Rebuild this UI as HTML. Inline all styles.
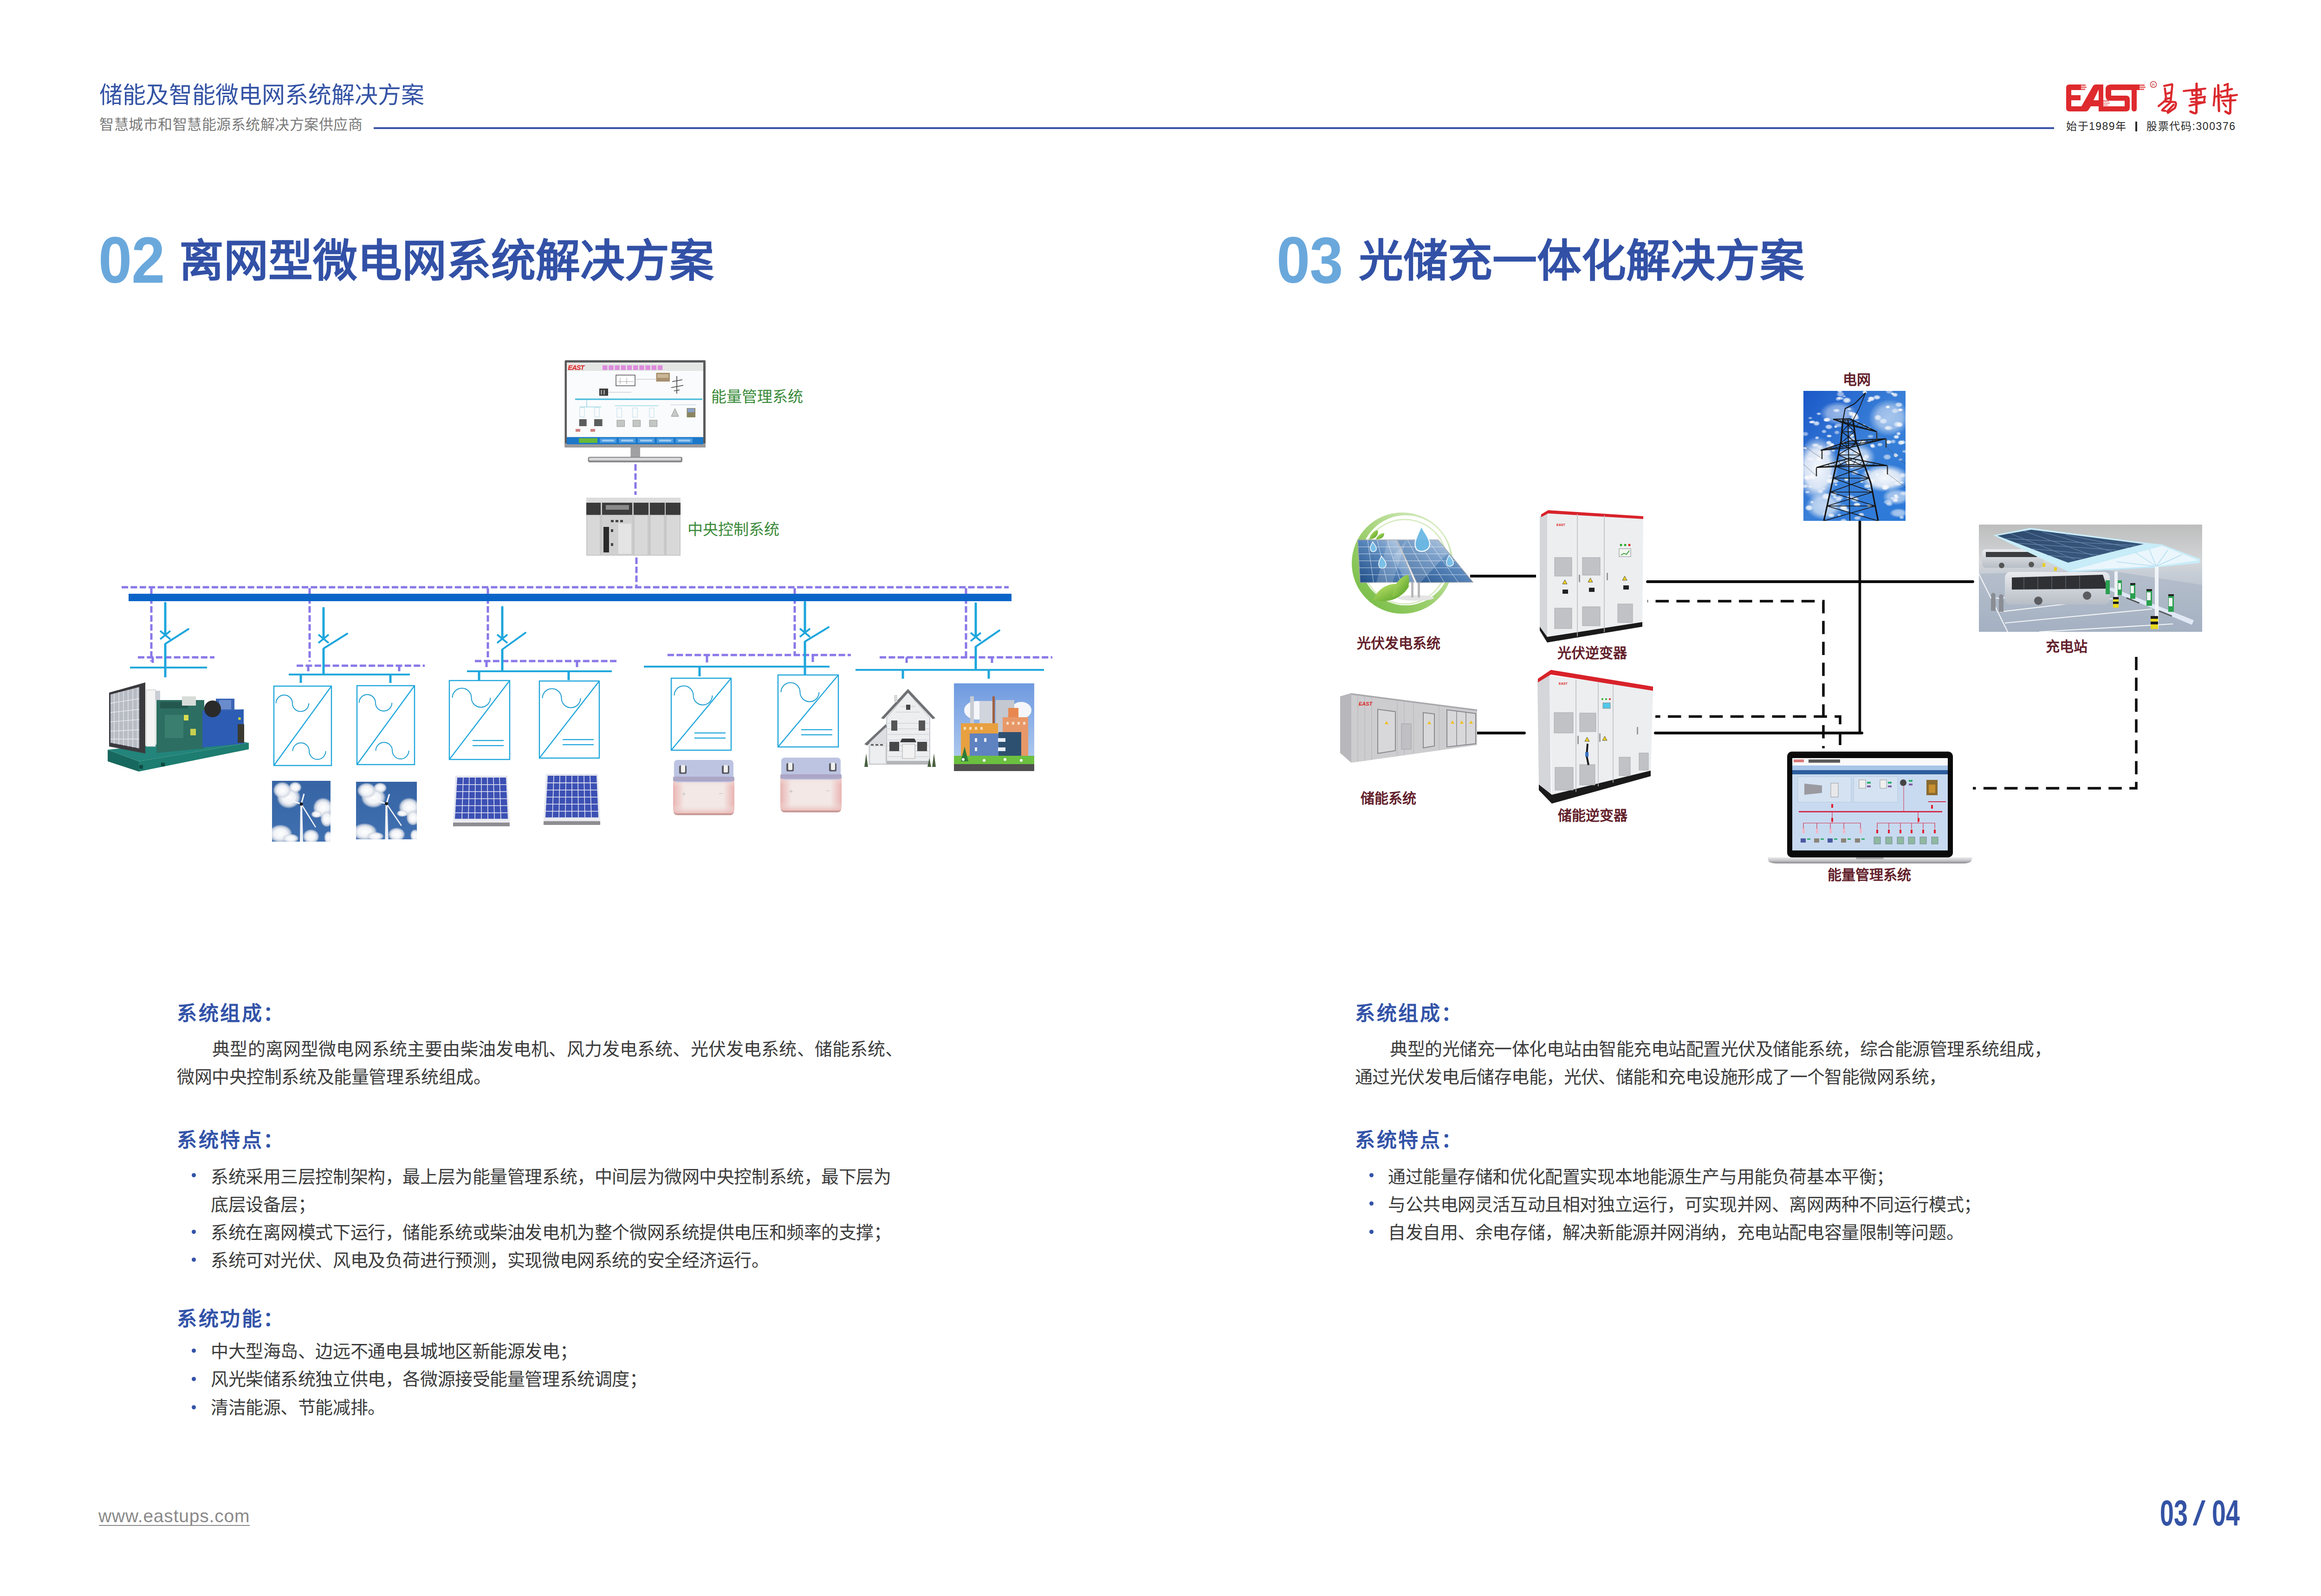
<!DOCTYPE html>
<html lang="zh-CN"><head><meta charset="utf-8"><style>
html,body{margin:0;padding:0;background:#fff;}
body{width:5032px;height:3438px;position:relative;overflow:hidden;font-family:"Liberation Sans",sans-serif;}
.a{position:absolute;white-space:nowrap;line-height:1;}
.hd{color:#3453a5;font-size:50px;}
.sub{color:#7a7a7a;font-size:31px;letter-spacing:0.5px;}
.num{color:#6aa8dc;font-weight:bold;font-size:141px;letter-spacing:-1px;transform:scaleX(0.92);transform-origin:left top;}
.ttl{color:#3251a6;font-weight:900;font-size:96px;}
.h3{color:#3353a8;font-weight:900;font-size:43px;letter-spacing:3.5px;}
.p{color:#3c3c3c;font-size:38px;letter-spacing:-0.42px;margin-top:1px;}
.dot{position:absolute;width:9px;height:9px;border-radius:50%;background:#3353a8;}
.lbl{color:#62202a;font-weight:bold;font-size:30px;}
.glbl{color:#3a8a3a;font-size:33px;}
svg{position:absolute;left:0;top:0;}
</style></head><body>
<svg width="5032" height="3438" viewBox="0 0 5032 3438"><defs><linearGradient id="skyg" x1="0" y1="0" x2="0" y2="1"><stop offset="0" stop-color="#3664a4"/><stop offset="1" stop-color="#4070b0"/></linearGradient>
<radialGradient id="cloudg" cx="0.5" cy="0.5" r="0.5"><stop offset="0" stop-color="#ffffff"/><stop offset="0.55" stop-color="#f0f2f6"/><stop offset="0.8" stop-color="#d4dae4" stop-opacity="0.85"/><stop offset="1" stop-color="#c8d0dc" stop-opacity="0"/></radialGradient>
<symbol id="wind" viewBox="0 0 126 131" preserveAspectRatio="none">
<rect width="126" height="131" fill="url(#skyg)"/>
<ellipse cx="36" cy="36" rx="26" ry="24" fill="url(#cloudg)"/>
<ellipse cx="22" cy="20" rx="20" ry="18" fill="url(#cloudg)"/>
<ellipse cx="50" cy="14" rx="14" ry="12" fill="url(#cloudg)"/>
<ellipse cx="110" cy="58" rx="22" ry="22" fill="url(#cloudg)"/>
<ellipse cx="118" cy="82" rx="14" ry="18" fill="url(#cloudg)"/>
<ellipse cx="96" cy="72" rx="12" ry="8" fill="url(#cloudg)"/>
<ellipse cx="18" cy="114" rx="26" ry="20" fill="url(#cloudg)"/>
<ellipse cx="40" cy="124" rx="18" ry="10" fill="url(#cloudg)"/>
<ellipse cx="84" cy="120" rx="18" ry="16" fill="url(#cloudg)"/>
<ellipse cx="122" cy="122" rx="10" ry="14" fill="url(#cloudg)"/>
<polygon points="61,52 65,52 67,131 60,131" fill="#eef0f4"/>
<line x1="63" y1="50" x2="69" y2="28" stroke="#f4f6fa" stroke-width="3"/>
<line x1="63" y1="50" x2="33" y2="40" stroke="#f4f6fa" stroke-width="3"/>
<line x1="63" y1="50" x2="94" y2="100" stroke="#f4f6fa" stroke-width="2.5"/>
<circle cx="63" cy="50" r="3.5" fill="#1a1a1a"/>
</symbol>
<linearGradient id="batg" x1="0" y1="0" x2="1" y2="0"><stop offset="0" stop-color="#e9b4b2"/><stop offset="0.18" stop-color="#f3e8e6"/><stop offset="0.82" stop-color="#f3e8e6"/><stop offset="1" stop-color="#e9b4b2"/></linearGradient>
<linearGradient id="batgv" x1="0" y1="0" x2="0" y2="1"><stop offset="0" stop-color="#f0c8c4" stop-opacity="0.9"/><stop offset="0.25" stop-color="#f0ecea" stop-opacity="0"/><stop offset="0.75" stop-color="#f0ecea" stop-opacity="0"/><stop offset="1" stop-color="#ebbab6" stop-opacity="0.9"/></linearGradient>
<symbol id="battery" viewBox="0 0 134 121" preserveAspectRatio="none">
<rect x="2" y="42" width="130" height="77" rx="8" fill="#c89a98"/>
<rect x="1" y="40" width="132" height="75" rx="8" fill="url(#batg)"/>
<rect x="1" y="40" width="132" height="75" rx="8" fill="url(#batgv)"/>
<rect x="3" y="0" width="128" height="48" rx="7" fill="#bdc4e2"/>
<rect x="1" y="36" width="132" height="10" rx="3" fill="#aca6c6"/>
<rect x="14" y="12" width="16" height="18" rx="3" fill="#5a5a60"/>
<rect x="18" y="11" width="9" height="16" rx="2" fill="#f0f0f0"/>
<rect x="106" y="12" width="16" height="18" rx="3" fill="#5a5a60"/>
<rect x="110" y="11" width="9" height="16" rx="2" fill="#f0f0f0"/>
<text x="20" y="78" font-size="14" fill="#b8bcb8" font-family="Liberation Sans">+</text>
<text x="100" y="76" font-size="14" fill="#b8bcb8" font-family="Liberation Sans">–</text>
</symbol>
<pattern id="cells" width="13.5" height="13.5" patternUnits="userSpaceOnUse"><rect width="13.5" height="13.5" fill="#e6e8f2"/><rect x="1" y="1" width="11.5" height="11.5" rx="2" fill="#3c50b4"/></pattern>
<symbol id="solar" viewBox="0 0 124 110" preserveAspectRatio="none">
<rect x="1" y="98" width="122" height="12" fill="#8e8e92"/>
<polygon points="6,2 118,2 123,100 1,100" fill="#e4e6ee"/>
<polygon points="10,6 115,6 119,94 5,94" fill="#3c50b4"/>
<g stroke="#e6e8f2" stroke-width="1.5">
<line x1="5" y1="21" x2="118" y2="21"/><line x1="5" y1="36" x2="118" y2="36"/><line x1="5" y1="51" x2="118" y2="51"/><line x1="5" y1="66" x2="119" y2="66"/><line x1="5" y1="81" x2="119" y2="81"/>
<line x1="23" y1="6" x2="20" y2="94"/><line x1="36" y1="6" x2="34" y2="94"/><line x1="49" y1="6" x2="48" y2="94"/><line x1="62" y1="6" x2="62" y2="94"/><line x1="75" y1="6" x2="76" y2="94"/><line x1="88" y1="6" x2="90" y2="94"/><line x1="101" y1="6" x2="104" y2="94"/>
</g>
<rect x="1" y="96" width="122" height="6" fill="#ececf0"/>
</symbol>
</defs><line x1="262" y1="1265" x2="2173" y2="1265" stroke="#8878e8" stroke-width="5" stroke-dasharray="14 5.4"/>
<line x1="1369" y1="1000" x2="1369" y2="1066" stroke="#8878e8" stroke-width="5" stroke-dasharray="14 5.4"/>
<line x1="1371" y1="1201" x2="1371" y2="1264" stroke="#8878e8" stroke-width="5" stroke-dasharray="14 5.4"/>
<line x1="326" y1="1267" x2="326" y2="1425" stroke="#8878e8" stroke-width="5" stroke-dasharray="14 5.4"/>
<line x1="667" y1="1267" x2="667" y2="1425" stroke="#8878e8" stroke-width="5" stroke-dasharray="14 5.4"/>
<line x1="1051" y1="1267" x2="1051" y2="1416" stroke="#8878e8" stroke-width="5" stroke-dasharray="14 5.4"/>
<line x1="1712" y1="1267" x2="1712" y2="1411" stroke="#8878e8" stroke-width="5" stroke-dasharray="14 5.4"/>
<line x1="2081" y1="1267" x2="2081" y2="1416" stroke="#8878e8" stroke-width="5" stroke-dasharray="14 5.4"/>
<line x1="297" y1="1416" x2="462" y2="1416" stroke="#8878e8" stroke-width="5" stroke-dasharray="14 5.4"/>
<line x1="639" y1="1434" x2="915" y2="1434" stroke="#8878e8" stroke-width="5" stroke-dasharray="14 5.4"/>
<line x1="1023" y1="1424" x2="1329" y2="1424" stroke="#8878e8" stroke-width="5" stroke-dasharray="14 5.4"/>
<line x1="1438" y1="1411" x2="1833" y2="1411" stroke="#8878e8" stroke-width="5" stroke-dasharray="14 5.4"/>
<line x1="1895" y1="1416" x2="2267" y2="1416" stroke="#8878e8" stroke-width="5" stroke-dasharray="14 5.4"/>
<line x1="664" y1="1434" x2="664" y2="1446" stroke="#8878e8" stroke-width="5" />
<line x1="860" y1="1434" x2="860" y2="1446" stroke="#8878e8" stroke-width="5" />
<line x1="1048" y1="1424" x2="1048" y2="1437" stroke="#8878e8" stroke-width="5" />
<line x1="1243" y1="1424" x2="1243" y2="1437" stroke="#8878e8" stroke-width="5" />
<line x1="1523" y1="1411" x2="1523" y2="1427" stroke="#8878e8" stroke-width="5" />
<line x1="1751" y1="1411" x2="1751" y2="1426" stroke="#8878e8" stroke-width="5" />
<line x1="1953" y1="1416" x2="1953" y2="1428" stroke="#8878e8" stroke-width="5" />
<line x1="2137" y1="1416" x2="2137" y2="1428" stroke="#8878e8" stroke-width="5" />
<line x1="329" y1="1416" x2="329" y2="1428" stroke="#8878e8" stroke-width="5" />
<rect x="277" y="1279" width="1902" height="16" fill="#0a64c8"/>
<line x1="280" y1="1438" x2="446" y2="1438" stroke="#22a8dc" stroke-width="4" />
<line x1="622" y1="1453" x2="883" y2="1453" stroke="#22a8dc" stroke-width="4" />
<line x1="1006" y1="1446" x2="1318" y2="1446" stroke="#22a8dc" stroke-width="4" />
<line x1="1387" y1="1436" x2="1787" y2="1436" stroke="#22a8dc" stroke-width="4" />
<line x1="1843" y1="1443" x2="2249" y2="1443" stroke="#22a8dc" stroke-width="4" />
<line x1="648" y1="1453" x2="648" y2="1471" stroke="#1ea6dc" stroke-width="5" />
<line x1="841" y1="1453" x2="841" y2="1471" stroke="#1ea6dc" stroke-width="5" />
<line x1="1032" y1="1446" x2="1032" y2="1465" stroke="#1ea6dc" stroke-width="5" />
<line x1="1225" y1="1446" x2="1225" y2="1465" stroke="#1ea6dc" stroke-width="5" />
<line x1="1507" y1="1436" x2="1507" y2="1457" stroke="#1ea6dc" stroke-width="5" />
<line x1="1945" y1="1443" x2="1945" y2="1462" stroke="#1ea6dc" stroke-width="5" />
<line x1="2130" y1="1443" x2="2130" y2="1462" stroke="#1ea6dc" stroke-width="5" />
<line x1="356" y1="1299" x2="356" y2="1368" stroke="#1ea6dc" stroke-width="5" stroke-linecap="round"/>
<line x1="345" y1="1359" x2="367" y2="1377" stroke="#1ea6dc" stroke-width="4" />
<line x1="345" y1="1377" x2="367" y2="1359" stroke="#1ea6dc" stroke-width="4" />
<line x1="356" y1="1387" x2="406" y2="1355" stroke="#1ea6dc" stroke-width="4" stroke-linecap="round"/>
<line x1="356" y1="1387" x2="356" y2="1459" stroke="#1ea6dc" stroke-width="5" />
<line x1="697" y1="1310" x2="697" y2="1376" stroke="#1ea6dc" stroke-width="5" stroke-linecap="round"/>
<line x1="686" y1="1367" x2="708" y2="1385" stroke="#1ea6dc" stroke-width="4" />
<line x1="686" y1="1385" x2="708" y2="1367" stroke="#1ea6dc" stroke-width="4" />
<line x1="697" y1="1397" x2="748" y2="1365" stroke="#1ea6dc" stroke-width="4" stroke-linecap="round"/>
<line x1="697" y1="1397" x2="697" y2="1453" stroke="#1ea6dc" stroke-width="5" />
<line x1="1082" y1="1308" x2="1082" y2="1376" stroke="#1ea6dc" stroke-width="5" stroke-linecap="round"/>
<line x1="1071" y1="1367" x2="1093" y2="1385" stroke="#1ea6dc" stroke-width="4" />
<line x1="1071" y1="1385" x2="1093" y2="1367" stroke="#1ea6dc" stroke-width="4" />
<line x1="1082" y1="1399" x2="1132" y2="1363" stroke="#1ea6dc" stroke-width="4" stroke-linecap="round"/>
<line x1="1082" y1="1399" x2="1082" y2="1446" stroke="#1ea6dc" stroke-width="5" />
<line x1="1734" y1="1297" x2="1734" y2="1363" stroke="#1ea6dc" stroke-width="5" stroke-linecap="round"/>
<line x1="1723" y1="1354" x2="1745" y2="1372" stroke="#1ea6dc" stroke-width="4" />
<line x1="1723" y1="1372" x2="1745" y2="1354" stroke="#1ea6dc" stroke-width="4" />
<line x1="1734" y1="1382" x2="1785" y2="1351" stroke="#1ea6dc" stroke-width="4" stroke-linecap="round"/>
<line x1="1734" y1="1382" x2="1734" y2="1454" stroke="#1ea6dc" stroke-width="5" />
<line x1="2102" y1="1300" x2="2102" y2="1372" stroke="#1ea6dc" stroke-width="5" stroke-linecap="round"/>
<line x1="2091" y1="1363" x2="2113" y2="1381" stroke="#1ea6dc" stroke-width="4" />
<line x1="2091" y1="1381" x2="2113" y2="1363" stroke="#1ea6dc" stroke-width="4" />
<line x1="2102" y1="1393" x2="2153" y2="1358" stroke="#1ea6dc" stroke-width="4" stroke-linecap="round"/>
<line x1="2102" y1="1393" x2="2102" y2="1444" stroke="#1ea6dc" stroke-width="5" />
<rect x="590" y="1478" width="124" height="171" fill="none" stroke="#1ea6dc" stroke-width="2.4"/>
<line x1="590" y1="1649" x2="714" y2="1478" stroke="#1ea6dc" stroke-width="2.4" />
<path d="M594.5,1515 A17.7,17.7 0 0 1 629.9,1515 A17.7,17.7 0 0 0 665.3,1515" fill="none" stroke="#1a9cd0" stroke-width="1.9"/>
<path d="M630.5,1618 A17.8,17.8 0 0 1 666.1,1618 A17.8,17.8 0 0 0 701.7,1618" fill="none" stroke="#1a9cd0" stroke-width="1.9"/>
<rect x="769" y="1477" width="124" height="170" fill="none" stroke="#1ea6dc" stroke-width="2.4"/>
<line x1="769" y1="1647" x2="893" y2="1477" stroke="#1ea6dc" stroke-width="2.4" />
<path d="M773.5,1514 A17.7,17.7 0 0 1 808.9,1514 A17.7,17.7 0 0 0 844.3,1514" fill="none" stroke="#1a9cd0" stroke-width="1.9"/>
<path d="M809.5,1617 A17.8,17.8 0 0 1 845.1,1617 A17.8,17.8 0 0 0 880.7,1617" fill="none" stroke="#1a9cd0" stroke-width="1.9"/>
<rect x="968" y="1466" width="130" height="170" fill="none" stroke="#1ea6dc" stroke-width="2.4"/>
<line x1="968" y1="1636" x2="1098" y2="1466" stroke="#1ea6dc" stroke-width="2.4" />
<path d="M974.5,1503 A20.5,20.5 0 0 1 1015.5,1503 A20.5,20.5 0 0 0 1056.5,1503" fill="none" stroke="#1a9cd0" stroke-width="1.9"/>
<line x1="1018" y1="1595.2" x2="1085" y2="1595.2" stroke="#1ea6dc" stroke-width="2.2" />
<line x1="1018" y1="1606.2" x2="1085" y2="1606.2" stroke="#1ea6dc" stroke-width="2.2" />
<rect x="1162" y="1467" width="129" height="166" fill="none" stroke="#1ea6dc" stroke-width="2.4"/>
<line x1="1162" y1="1633" x2="1291" y2="1467" stroke="#1ea6dc" stroke-width="2.4" />
<path d="M1168.5,1504 A20.5,20.5 0 0 1 1209.5,1504 A20.5,20.5 0 0 0 1250.5,1504" fill="none" stroke="#1a9cd0" stroke-width="1.9"/>
<line x1="1212" y1="1593.16" x2="1279" y2="1593.16" stroke="#1ea6dc" stroke-width="2.2" />
<line x1="1212" y1="1604.16" x2="1279" y2="1604.16" stroke="#1ea6dc" stroke-width="2.2" />
<rect x="1446" y="1461" width="129" height="155" fill="none" stroke="#1ea6dc" stroke-width="2.4"/>
<line x1="1446" y1="1616" x2="1575" y2="1461" stroke="#1ea6dc" stroke-width="2.4" />
<path d="M1452.5,1498 A20.5,20.5 0 0 1 1493.5,1498 A20.5,20.5 0 0 0 1534.5,1498" fill="none" stroke="#1a9cd0" stroke-width="1.9"/>
<line x1="1496" y1="1578.8" x2="1563" y2="1578.8" stroke="#1ea6dc" stroke-width="2.2" />
<line x1="1496" y1="1589.8" x2="1563" y2="1589.8" stroke="#1ea6dc" stroke-width="2.2" />
<rect x="1676" y="1454" width="130" height="155" fill="none" stroke="#1ea6dc" stroke-width="2.4"/>
<line x1="1676" y1="1609" x2="1806" y2="1454" stroke="#1ea6dc" stroke-width="2.4" />
<path d="M1682.5,1491 A20.5,20.5 0 0 1 1723.5,1491 A20.5,20.5 0 0 0 1764.5,1491" fill="none" stroke="#1a9cd0" stroke-width="1.9"/>
<line x1="1726" y1="1571.8" x2="1793" y2="1571.8" stroke="#1ea6dc" stroke-width="2.2" />
<line x1="1726" y1="1582.8" x2="1793" y2="1582.8" stroke="#1ea6dc" stroke-width="2.2" /><g id="gen">
<polygon points="232,1615 232,1640 299,1662 299,1640" fill="#17685e"/>
<polygon points="299,1640 299,1662 536,1614 536,1600" fill="#1d7d70"/>
<polygon points="232,1615 299,1640 536,1600 470,1590" fill="#22847a"/>
<rect x="300" y="1648" width="8" height="8" fill="#0e4a42"/>
<rect x="347" y="1643" width="8" height="8" fill="#0e4a42"/>
<polygon points="235,1492 313,1470 313,1623 235,1608" fill="#3a3a3e"/>
<polygon points="238,1496 300,1480 300,1612 238,1600" fill="#b8bcc4"/>
<g stroke="#e8ecf0" stroke-width="1.3">
<line x1="246" y1="1494" x2="246" y2="1602"/><line x1="256" y1="1491" x2="256" y2="1604"/><line x1="266" y1="1489" x2="266" y2="1606"/><line x1="276" y1="1486" x2="276" y2="1608"/><line x1="286" y1="1484" x2="286" y2="1610"/><line x1="296" y1="1481" x2="296" y2="1612"/>
<line x1="238" y1="1515" x2="300" y2="1505"/><line x1="238" y1="1535" x2="300" y2="1528"/><line x1="238" y1="1555" x2="300" y2="1550"/><line x1="238" y1="1575" x2="300" y2="1572"/><line x1="238" y1="1592" x2="300" y2="1592"/>
</g>
<rect x="315" y="1486" width="20" height="122" fill="#f4f4f4" stroke="#bbb" stroke-width="1"/>
<rect x="335" y="1488" width="10" height="20" fill="#c8ccd4"/>
<polygon points="337,1508 440,1508 440,1612 337,1622" fill="#2d6e62"/>
<rect x="345" y="1512" width="60" height="14" fill="#24584f"/>
<rect x="392" y="1500" width="30" height="20" fill="#d8dcd8"/>
<rect x="355" y="1540" width="40" height="50" fill="#3a7e70"/>
<rect x="410" y="1570" width="12" height="14" fill="#c8d050"/>
<rect x="396" y="1540" width="10" height="12" fill="#d8dc50"/>
<polygon points="436,1530 525,1528 525,1602 436,1610" fill="#2c5cb4"/>
<rect x="465" y="1505" width="40" height="26" fill="#3a64b4"/>
<rect x="472" y="1508" width="26" height="20" fill="#6a8ccc"/>
<circle cx="458" cy="1527" r="18" fill="#2a2a2a"/>
<rect x="512" y="1560" width="14" height="40" fill="#3a3a30"/>
<circle cx="516" cy="1548" r="3" fill="#c0d040"/>
</g>
<use href="#wind" x="586" y="1682" width="126" height="131"/>
<use href="#wind" x="767" y="1684" width="131" height="124"/>
<use href="#solar" x="975" y="1669" width="124" height="111"/>
<use href="#solar" x="1170" y="1665" width="124" height="112"/>
<use href="#battery" x="1449" y="1637" width="134" height="121"/>
<use href="#battery" x="1680" y="1632" width="134" height="120"/>
<g id="house">
<rect x="1872" y="1601" width="38" height="46" fill="#e4e6ea" stroke="#b8bcc0" stroke-width="1"/>
<polygon points="1862,1603 1908,1560 1912,1566 1868,1606" fill="#707276"/>
<polygon points="1872,1601 1909,1566 1909,1601" fill="#dcdee2"/>
<g fill="#555"><rect x="1876" y="1603" width="6" height="3"/><rect x="1886" y="1603" width="6" height="3"/><rect x="1896" y="1603" width="6" height="3"/></g>
<rect x="1874" y="1607" width="34" height="38" fill="#eceef0" stroke="#c8c8cc" stroke-width="1"/>
<polygon points="1910,1546 1956,1492 2003,1546 2003,1640 1910,1640" fill="#eceef0" stroke="#9a9ca0" stroke-width="1"/>
<polygon points="1898,1547 1956,1484 2015,1547 2009,1549 1956,1492 1904,1549" fill="#6e7074"/>
<rect x="1926" y="1497" width="7" height="15" fill="#d8d8d8"/>
<g stroke="#c4c8cc" stroke-width="1.2"><line x1="1912" y1="1558" x2="2001" y2="1558"/><line x1="1912" y1="1570" x2="2001" y2="1570"/><line x1="1912" y1="1582" x2="2001" y2="1582"/><line x1="1912" y1="1594" x2="2001" y2="1594"/><line x1="1912" y1="1606" x2="2001" y2="1606"/><line x1="1912" y1="1618" x2="2001" y2="1618"/><line x1="1912" y1="1630" x2="2001" y2="1630"/><line x1="1930" y1="1534" x2="1982" y2="1534"/><line x1="1940" y1="1522" x2="1972" y2="1522"/></g>
<rect x="1952" y="1518" width="9" height="11" fill="#444"/>
<rect x="1920" y="1552" width="13" height="22" fill="#555"/>
<rect x="1979" y="1552" width="14" height="22" fill="#555"/>
<rect x="1916" y="1598" width="21" height="20" fill="#484848"/>
<rect x="1976" y="1598" width="21" height="20" fill="#484848"/>
<polygon points="1939,1599 1943,1591 1970,1591 1974,1599" fill="#3a3c40"/>
<rect x="1944" y="1603" width="27" height="31" fill="#f2f2f2" stroke="#aaa" stroke-width="1"/>
<rect x="1910" y="1639" width="94" height="8" fill="#b4b6ba"/>
<polygon points="1862,1652 1866,1623 1870,1652" fill="#4a6040"/>
<polygon points="1998,1652 2002,1633 2006,1652" fill="#4a6040"/>
<polygon points="2008,1652 2012,1623 2016,1652" fill="#4a6040"/>
</g>
<g id="factory">
<defs><linearGradient id="fsky" x1="0" y1="0" x2="0" y2="1"><stop offset="0" stop-color="#6f9ae0"/><stop offset="1" stop-color="#b8d0f0"/></linearGradient></defs>
<rect x="2055" y="1472" width="173" height="189" fill="url(#fsky)"/>
<ellipse cx="2105" cy="1530" rx="28" ry="20" fill="#f4f6fa"/>
<ellipse cx="2200" cy="1530" rx="22" ry="18" fill="#f4f6fa"/>
<rect x="2090" y="1500" width="8" height="60" fill="#c8ccd4"/>
<rect x="2110" y="1510" width="30" height="70" fill="#d0d4dc"/>
<rect x="2145" y="1508" width="40" height="75" fill="#c4c8d0"/>
<rect x="2138" y="1500" width="5" height="80" fill="#a06040"/>
<rect x="2172" y="1525" width="22" height="40" fill="#e88850"/>
<rect x="2160" y="1545" width="55" height="90" fill="#e89868"/>
<rect x="2070" y="1558" width="80" height="70" fill="#e8a040"/>
<g fill="#fff8e8" opacity="0.7"><rect x="2076" y="1566" width="5" height="6"/><rect x="2088" y="1566" width="5" height="6"/><rect x="2100" y="1566" width="5" height="6"/><rect x="2112" y="1566" width="5" height="6"/><rect x="2168" y="1555" width="5" height="6"/><rect x="2180" y="1555" width="5" height="6"/><rect x="2192" y="1555" width="5" height="6"/><rect x="2204" y="1555" width="5" height="6"/></g>
<rect x="2089" y="1580" width="62" height="50" fill="#5f82c0"/>
<rect x="2151" y="1577" width="49" height="53" fill="#2e5070"/>
<g fill="#e8eef8"><rect x="2100" y="1590" width="5" height="8"/><rect x="2120" y="1590" width="5" height="8"/><rect x="2150" y="1590" width="16" height="8"/><rect x="2100" y="1610" width="5" height="8"/><rect x="2150" y="1610" width="16" height="8"/></g>
<rect x="2055" y="1628" width="173" height="18" fill="#6cc040"/>
<rect x="2055" y="1646" width="173" height="15" fill="#505050"/>
<polygon points="2070,1640 2078,1608 2086,1640" fill="#2e7a3a"/>
<g fill="#fff"><circle cx="2075" cy="1636" r="3"/><circle cx="2120" cy="1638" r="3"/><circle cx="2165" cy="1636" r="3"/><circle cx="2200" cy="1638" r="3"/></g>
</g>
<g id="monitor">
<rect x="1216.5" y="776" width="303.5" height="188" rx="2" fill="#5a5a5c"/>
<rect x="1216.5" y="955" width="303.5" height="9" fill="#9a9a9c"/>
<rect x="1221" y="781" width="294" height="176" fill="#fafbfc"/>
<rect x="1221" y="782" width="294" height="17" fill="#e4e6e4"/>
<rect x="1223" y="784" width="27" height="13.5" fill="#f4d8d8"/>
<text x="1223.5" y="797" font-size="14.5" font-weight="bold" font-style="italic" fill="#d42828" font-family="Liberation Sans" letter-spacing="-1">EAST</text>
<rect x="1298.0" y="787" width="10.5" height="10" fill="#d850d8" opacity="0.6"/><rect x="1311.2" y="787" width="10.5" height="10" fill="#d850d8" opacity="0.6"/><rect x="1324.4" y="787" width="10.5" height="10" fill="#d850d8" opacity="0.6"/><rect x="1337.6" y="787" width="10.5" height="10" fill="#d850d8" opacity="0.6"/><rect x="1350.8" y="787" width="10.5" height="10" fill="#d850d8" opacity="0.6"/><rect x="1364.0" y="787" width="10.5" height="10" fill="#d850d8" opacity="0.6"/><rect x="1377.2" y="787" width="10.5" height="10" fill="#d850d8" opacity="0.6"/><rect x="1390.4" y="787" width="10.5" height="10" fill="#d850d8" opacity="0.6"/><rect x="1403.6" y="787" width="10.5" height="10" fill="#d850d8" opacity="0.6"/><rect x="1416.8" y="787" width="10.5" height="10" fill="#d850d8" opacity="0.6"/>
<rect x="1239" y="858.5" width="274" height="3" fill="#40b8d8"/>
<rect x="1327" y="808" width="41" height="23" fill="#fff" stroke="#555" stroke-width="1.5"/>
<g stroke="#888" stroke-width="0.8"><line x1="1330" y1="822" x2="1365" y2="822"/><line x1="1336" y1="814" x2="1336" y2="828"/><line x1="1350" y1="814" x2="1350" y2="828"/></g>
<line x1="1368" y1="817" x2="1413" y2="817" stroke="#aaa" stroke-width="0.8"/>
<rect x="1413.5" y="803" width="29.5" height="19" fill="#a89070"/>
<rect x="1416" y="806" width="24" height="8" fill="#d8c8a8" opacity="0.7"/>
<g stroke="#444" stroke-width="1.6" fill="none"><path d="M1458,810 L1458,848 M1448,822 L1470,818 M1446,835 L1472,830 M1452,842 L1464,840"/></g>
<rect x="1291" y="837" width="19" height="15.5" fill="#3a3a3a"/>
<g fill="#999"><rect x="1294" y="840" width="3" height="10"/><rect x="1300" y="840" width="3" height="10"/></g>
<line x1="1310" y1="845" x2="1360" y2="845" stroke="#aaa" stroke-width="0.8"/>
<line x1="1249" y1="876.5" x2="1295.5" y2="876.5" stroke="#9ad8e4" stroke-width="1.5"/>
<line x1="1324.5" y1="874" x2="1418.6" y2="874" stroke="#9ad8e4" stroke-width="1.5"/>
<line x1="1444.7" y1="872" x2="1499.7" y2="872" stroke="#b8c8d8" stroke-width="1.2"/>
<line x1="1264" y1="861" x2="1264" y2="876" stroke="#9ad8e4" stroke-width="1.5"/>
<g stroke="#b8dce8" stroke-width="1" fill="none"><rect x="1249" y="878" width="10" height="20"/><rect x="1281" y="878" width="10" height="20"/><rect x="1329" y="879" width="10" height="20"/><rect x="1363" y="879" width="10" height="20"/><rect x="1399" y="879" width="10" height="20"/></g>
<g fill="#5a5e5c"><rect x="1247.7" y="903" width="16" height="15"/><rect x="1280" y="903" width="17.6" height="15"/></g>
<g fill="#c4c6c4" stroke="#888" stroke-width="0.8"><rect x="1329" y="905" width="16.5" height="14"/><rect x="1363.5" y="905" width="16" height="14"/><rect x="1399" y="905" width="16.7" height="14"/></g>
<polygon points="1446,897 1454,880 1462,897" fill="#c8c8c8" stroke="#777" stroke-width="0.8"/>
<rect x="1479.5" y="879" width="18.5" height="20" fill="#8a8460"/>
<rect x="1481" y="880" width="15" height="8" fill="#8aa0c8"/>
<g fill="#d08080"><rect x="1240" y="924" width="10" height="6"/><rect x="1272" y="924" width="10" height="6"/></g>
<rect x="1221" y="941.5" width="294" height="15.5" fill="#1c78c8"/>
<rect x="1247" y="944" width="40" height="10" fill="#68b838"/>
<g fill="#4a9ae0"><rect x="1292" y="944" width="36" height="10"/><rect x="1333" y="944" width="36" height="10"/><rect x="1374" y="944" width="36" height="10"/><rect x="1415" y="944" width="36" height="10"/><rect x="1456" y="944" width="36" height="10"/></g>
<g fill="#d8eaf8" opacity="0.6"><rect x="1297" y="947" width="26" height="4"/><rect x="1338" y="947" width="26" height="4"/><rect x="1379" y="947" width="26" height="4"/><rect x="1420" y="947" width="26" height="4"/><rect x="1461" y="947" width="26" height="4"/></g>
<rect x="1358.5" y="964" width="20.5" height="20" fill="#a0a0a2"/>
<rect x="1266.5" y="984" width="203.5" height="12" rx="4" fill="#8a8a8c"/>
<rect x="1269" y="986" width="198" height="6" rx="2" fill="#d8d8da"/>
</g>
<g id="plc">
<rect x="1263" y="1072" width="203" height="125" fill="#c8c8c8"/>
<rect x="1263" y="1072" width="203" height="10" fill="#dcdcdc"/>
<rect x="1263" y="1083" width="31" height="26" fill="#3a3a3a"/>
<rect x="1297" y="1083" width="65" height="26" fill="#3c3c3c"/>
<rect x="1305" y="1088" width="50" height="10" fill="#8a8a8a"/>
<rect x="1365" y="1083" width="32" height="26" fill="#3a3a3a"/>
<rect x="1400" y="1083" width="32" height="26" fill="#3a3a3a"/>
<rect x="1434" y="1083" width="32" height="26" fill="#3a3a3a"/>
<g fill="#d8d8d8"><rect x="1265" y="1111" width="27" height="84"/><rect x="1367" y="1111" width="28" height="84"/><rect x="1402" y="1111" width="28" height="84"/><rect x="1436" y="1111" width="28" height="84"/></g>
<rect x="1297" y="1111" width="65" height="84" fill="#d0d0d0"/>
<rect x="1300" y="1135" width="12" height="55" fill="#2a2a2a"/>
<g fill="#444"><rect x="1316" y="1120" width="6" height="5"/><rect x="1326" y="1120" width="6" height="5"/><rect x="1336" y="1120" width="6" height="5"/><rect x="1316" y="1140" width="5" height="6"/><rect x="1316" y="1170" width="5" height="6"/></g>
<rect x="1332" y="1128" width="28" height="65" fill="#e4e4e4"/>
</g><line x1="3167" y1="1241" x2="3309" y2="1241" stroke="#0a0a0a" stroke-width="5.8" />
<line x1="3549" y1="1253" x2="4250" y2="1253" stroke="#0a0a0a" stroke-width="5.8" stroke-linecap="round"/>
<line x1="4006.5" y1="1103" x2="4006.5" y2="1581" stroke="#0a0a0a" stroke-width="5.6" />
<line x1="3182" y1="1579" x2="3284" y2="1579" stroke="#0a0a0a" stroke-width="5.8" stroke-linecap="round"/>
<line x1="3566" y1="1579" x2="4011" y2="1579" stroke="#0a0a0a" stroke-width="6" stroke-linecap="round"/>
<path d="M3549,1295 H3928 V1612" fill="none" stroke="#0a0a0a" stroke-width="5.5" stroke-dasharray="28.5 16.4" stroke-dashoffset="27.4"/>
<path d="M3566,1543.5 H3964 V1606" fill="none" stroke="#0a0a0a" stroke-width="5.5" stroke-dasharray="28.5 16.4" stroke-dashoffset="17.9"/>
<path d="M4250,1698 H4602 V1414" fill="none" stroke="#0a0a0a" stroke-width="5.5" stroke-dasharray="28.5 16.4" stroke-dashoffset="22"/>
<g id="pvsys">
<defs>
<linearGradient id="ringg" x1="0" y1="1" x2="1" y2="0"><stop offset="0" stop-color="#7cc040"/><stop offset="0.5" stop-color="#a8d878"/><stop offset="1" stop-color="#e0f0c8"/></linearGradient>
<linearGradient id="pang" x1="0" y1="1" x2="1" y2="0"><stop offset="0" stop-color="#1e4c86"/><stop offset="0.55" stop-color="#5a88bc"/><stop offset="1" stop-color="#c8d8ea"/></linearGradient>
<linearGradient id="leafg" x1="0" y1="0" x2="1" y2="1"><stop offset="0" stop-color="#c8e870"/><stop offset="1" stop-color="#4a9a20"/></linearGradient>
</defs>
<defs><linearGradient id="ringg2" x1="0" y1="1" x2="1" y2="0"><stop offset="0" stop-color="#6cb83a"/><stop offset="0.45" stop-color="#9ed070"/><stop offset="1" stop-color="#e8f4dc"/></linearGradient></defs>
<circle cx="3021" cy="1213" r="109" fill="url(#ringg2)"/>
<circle cx="3028" cy="1207" r="97" fill="#ffffff"/>
<circle cx="3026" cy="1210" r="91" fill="none" stroke="#d8ecc4" stroke-width="3"/>
<ellipse cx="3050" cy="1288" rx="39" ry="6" fill="#e4e4e4"/>
<rect x="3040" y="1253" width="5" height="34" fill="#b8b8b8"/><rect x="3054" y="1253" width="5" height="34" fill="#b8b8b8"/>
<polygon points="2925,1163 3009,1163 3047,1254 2930,1255" fill="url(#pang)" stroke="#9aa0a8" stroke-width="1.5"/>
<polygon points="3010,1163 3098,1163 3173,1254 3052,1255" fill="url(#pang)" stroke="#9aa0a8" stroke-width="1.5"/>
<g stroke="#e8f0f8" stroke-width="1" opacity="0.8">
<line x1="2926" y1="1178" x2="3015" y2="1178"/><line x1="2927" y1="1193" x2="3022" y2="1193"/><line x1="2928" y1="1208" x2="3028" y2="1208"/><line x1="2928" y1="1223" x2="3034" y2="1223"/><line x1="2929" y1="1238" x2="3040" y2="1238"/>
<line x1="2946" y1="1163" x2="2959" y2="1255"/><line x1="2967" y1="1163" x2="2988" y2="1255"/><line x1="2988" y1="1163" x2="3018" y2="1255"/>
<line x1="3016" y1="1178" x2="3110" y2="1178"/><line x1="3023" y1="1193" x2="3123" y2="1193"/><line x1="3029" y1="1208" x2="3135" y2="1208"/><line x1="3035" y1="1223" x2="3148" y2="1223"/><line x1="3041" y1="1238" x2="3160" y2="1238"/>
<line x1="3032" y1="1163" x2="3082" y2="1255"/><line x1="3054" y1="1163" x2="3112" y2="1255"/><line x1="3076" y1="1163" x2="3142" y2="1255"/>
</g>
<polygon points="2990,1163 3030,1163 3000,1255 2965,1255" fill="#ffffff" opacity="0.18"/>
<polygon points="3030,1163 3098,1163 3120,1190 3060,1255 3030,1255 3000,1200" fill="#ffffff" opacity="0.2"/>
<path d="M3062,1134 C3050,1160 3044,1172 3052,1184 C3062,1192 3080,1186 3080,1172 C3080,1160 3070,1150 3062,1134Z" fill="#6ab8e4" stroke="#f4faff" stroke-width="2.5" opacity="0.95"/>
<path d="M2957,1167 C2952,1177 2950,1182 2954,1187 C2958,1190 2965,1188 2965,1182 C2965,1177 2961,1173 2957,1167Z" fill="#7ac0e8" stroke="#fff" stroke-width="1.5"/>
<path d="M2976,1198 C2970,1210 2968,1216 2972,1222 C2977,1226 2986,1223 2986,1216 C2986,1210 2981,1205 2976,1198Z" fill="#7ac0e8" stroke="#fff" stroke-width="1.5"/>
<path d="M3122,1196 C3116,1207 3114,1213 3118,1218 C3122,1222 3131,1219 3131,1213 C3131,1207 3127,1202 3122,1196Z" fill="#7ac0e8" stroke="#fff" stroke-width="1.5"/>
<path d="M2958,1293 C2970,1262 3000,1250 3036,1262 C3020,1290 2990,1300 2958,1293Z" fill="url(#leafg)"/>
<path d="M3000,1286 C3002,1258 3016,1242 3034,1238 C3040,1262 3030,1280 3000,1286Z" fill="url(#leafg)"/>
<path d="M2950,1162 C2952,1150 2960,1143 2968,1142 C2970,1154 2962,1161 2950,1162Z" fill="url(#leafg)"/><path d="M2964,1162 C2968,1152 2976,1148 2982,1149 C2982,1158 2974,1162 2964,1162Z" fill="url(#leafg)"/>
</g>
<polygon points="3317,1112 3333,1103 3333,1382 3317,1355" fill="#d4d6da"/>
<polygon points="3333,1103 3540,1115 3538,1348 3333,1382" fill="#eceef0"/>
<polygon points="3317,1350 3333,1372 3538,1340 3538,1350 3333,1384 3317,1358" fill="#1a1a1a"/>
<polygon points="3320,1108 3335,1099 3540,1112 3540,1118 3335,1106 3320,1114" fill="#d8222a"/>
<line x1="3398" y1="1107" x2="3398" y2="1371" stroke="#b8bcc0" stroke-width="1.5"/>
<line x1="3456" y1="1110" x2="3456" y2="1362" stroke="#b8bcc0" stroke-width="1.5"/>
<rect x="3349" y="1201" width="37" height="40" fill="#c0c2c6" stroke="#a8aaae" stroke-width="1"/>
<rect x="3409" y="1201" width="38" height="38" fill="#c0c2c6" stroke="#a8aaae" stroke-width="1"/>
<rect x="3349" y="1310" width="37" height="44" fill="#c0c2c6" stroke="#a8aaae" stroke-width="1"/>
<rect x="3409" y="1307" width="38" height="41" fill="#c0c2c6" stroke="#a8aaae" stroke-width="1"/>
<rect x="3485" y="1301" width="32" height="40" fill="#c0c2c6" stroke="#a8aaae" stroke-width="1"/>
<polygon points="3366,1258 3371,1249 3376,1258" fill="#f0d020" stroke="#333" stroke-width="0.8"/>
<polygon points="3421,1254 3426,1245 3431,1254" fill="#f0d020" stroke="#333" stroke-width="0.8"/>
<polygon points="3495,1250 3500,1241 3505,1250" fill="#f0d020" stroke="#333" stroke-width="0.8"/>
<g fill="#222"><rect x="3366" y="1270" width="12" height="9"/><rect x="3423" y="1266" width="12" height="9"/><rect x="3497" y="1261" width="12" height="9"/></g>
<rect x="3488" y="1182" width="25" height="17" fill="#f4f8f4" stroke="#888" stroke-width="1"/><polyline points="3492,1196 3498,1192 3504,1194 3510,1186" fill="none" stroke="#40a040" stroke-width="2"/>
<circle cx="3492" cy="1174" r="2.5" fill="#2a2"/><circle cx="3501" cy="1174" r="2.5" fill="#2a2"/><circle cx="3510" cy="1174" r="2.5" fill="#d22"/>
<g fill="#999"><rect x="3401" y="1238" width="3" height="16"/><rect x="3461" y="1234" width="3" height="16"/></g>
<text x="3353" y="1133" font-size="7" fill="#d22" font-family="Liberation Sans" font-weight="bold">EAST</text>
<polygon points="3312,1466 3338,1455 3341,1720 3315,1693" fill="#d4d6da"/>
<polygon points="3338,1455 3561,1485 3556,1667 3343,1720" fill="#eceef0"/>
<polygon points="3315,1690 3343,1712 3556,1660 3556,1672 3343,1731 3315,1702" fill="#1a1a1a"/>
<polygon points="3313,1462 3341,1443 3561,1479 3561,1488 3341,1453 3313,1470" fill="#d8222a"/>
<line x1="3395" y1="1463" x2="3395" y2="1706" stroke="#b8bcc0" stroke-width="1.5"/>
<line x1="3443" y1="1470" x2="3443" y2="1694" stroke="#b8bcc0" stroke-width="1.5"/>
<line x1="3475" y1="1474" x2="3475" y2="1686" stroke="#b8bcc0" stroke-width="1.5"/>
<rect x="3348" y="1535" width="41" height="44" fill="#c0c2c6" stroke="#a8aaae" stroke-width="1"/>
<rect x="3403" y="1536" width="35" height="40" fill="#c0c2c6" stroke="#a8aaae" stroke-width="1"/>
<rect x="3350" y="1653" width="39" height="49" fill="#c0c2c6" stroke="#a8aaae" stroke-width="1"/>
<rect x="3403" y="1647" width="33" height="44" fill="#c0c2c6" stroke="#a8aaae" stroke-width="1"/>
<rect x="3488" y="1631" width="24" height="40" fill="#c0c2c6" stroke="#a8aaae" stroke-width="1"/>
<rect x="3531" y="1622" width="20" height="37" fill="#c0c2c6" stroke="#a8aaae" stroke-width="1"/>
<polygon points="3414,1597 3419,1588 3424,1597" fill="#f0d020" stroke="#333" stroke-width="0.8"/>
<polygon points="3452,1595 3457,1586 3462,1595" fill="#f0d020" stroke="#333" stroke-width="0.8"/>
<rect x="3453" y="1514" width="16" height="12" fill="#50c8e8" stroke="#888" stroke-width="1"/>
<circle cx="3452" cy="1506" r="2" fill="#2a2"/><circle cx="3460" cy="1506" r="2" fill="#2a2"/><circle cx="3468" cy="1506" r="2" fill="#d22"/>
<path d="M3420,1602 L3418,1628 L3422,1648" stroke="#1a1a1a" stroke-width="4" fill="none"/><rect x="3415" y="1620" width="7" height="10" fill="#3a70c0"/>
<g fill="#999"><rect x="3398" y="1585" width="3" height="18"/><rect x="3445" y="1580" width="3" height="18"/><rect x="3526" y="1566" width="3" height="16"/></g>
<text x="3358" y="1475" font-size="7" fill="#d22" font-family="Liberation Sans" font-weight="bold">EAST</text>
<g id="container">
<polygon points="2887,1500 2911,1493 2911,1643 2887,1622" fill="#b8b8bc"/>
<polygon points="2911,1493 3182,1528 3182,1605 2911,1643" fill="#cdcdd0"/>
<g stroke="#b4b4b8" stroke-width="1">
<line x1="2925" y1="1495" x2="2925" y2="1641"/><line x1="2940" y1="1497" x2="2940" y2="1639"/><line x1="2955" y1="1499" x2="2955" y2="1637"/><line x1="3010" y1="1506" x2="3010" y2="1629"/><line x1="3025" y1="1508" x2="3025" y2="1627"/><line x1="3045" y1="1511" x2="3045" y2="1624"/><line x1="3100" y1="1518" x2="3100" y2="1616"/>
</g>
<line x1="2911" y1="1495" x2="3182" y2="1530" stroke="#a8a8ac" stroke-width="3"/>
<polygon points="2968,1528 3006,1533 3006,1617 2968,1623" fill="#d8d8da" stroke="#8a8a8e" stroke-width="2"/>
<polygon points="3066,1535 3090,1538 3090,1607 3066,1611" fill="#d8d8da" stroke="#8a8a8e" stroke-width="2"/>
<polygon points="3117,1529 3179,1537 3179,1602 3117,1609" fill="#d8d8da" stroke="#8a8a8e" stroke-width="2"/>
<line x1="3138" y1="1532" x2="3138" y2="1607" stroke="#8a8a8e" stroke-width="1.5"/><line x1="3158" y1="1535" x2="3158" y2="1604" stroke="#8a8a8e" stroke-width="1.5"/>
<rect x="3019" y="1559" width="21" height="55" fill="#c0c0c4" stroke="#a0a0a4" stroke-width="1"/>
<g fill="#f0c020"><polygon points="2983,1560 2987,1553 2991,1560"/><polygon points="3075,1560 3079,1553 3083,1560"/><polygon points="3125,1559 3129,1552 3133,1559"/><polygon points="3145,1559 3149,1552 3153,1559"/><polygon points="3165,1559 3169,1552 3173,1559"/></g>
<text x="2927" y="1520" font-size="11" fill="#d22" font-family="Liberation Sans" font-weight="bold" font-style="italic">EAST</text>
</g>
<g id="tower"><defs><linearGradient id="tsky" x1="0" y1="0" x2="1" y2="1"><stop offset="0" stop-color="#1a58c8"/><stop offset="0.5" stop-color="#3a80d8"/><stop offset="1" stop-color="#2a78d8"/></linearGradient><radialGradient id="tcl" cx="0.5" cy="0.5" r="0.5"><stop offset="0" stop-color="#ffffff"/><stop offset="0.6" stop-color="#f4f6fa" stop-opacity="0.9"/><stop offset="1" stop-color="#f0f4fa" stop-opacity="0"/></radialGradient><clipPath id="tclip"><rect x="3885" y="842" width="220" height="280"/></clipPath></defs><g clip-path="url(#tclip)"><rect x="3885" y="842" width="220" height="280" fill="url(#tsky)"/><ellipse cx="3915" cy="1010" rx="45" ry="70" fill="url(#tcl)" opacity="0.95"/><ellipse cx="3930" cy="1090" rx="40" ry="30" fill="url(#tcl)" opacity="0.7"/><ellipse cx="4060" cy="1030" rx="55" ry="30" fill="url(#tcl)" opacity="0.95"/><ellipse cx="4085" cy="1070" rx="30" ry="18" fill="url(#tcl)" opacity="0.6"/><ellipse cx="4000" cy="985" rx="40" ry="30" fill="url(#tcl)" opacity="0.7"/><ellipse cx="4070" cy="900" rx="45" ry="40" fill="url(#tcl)" opacity="0.55"/><ellipse cx="3960" cy="890" rx="40" ry="25" fill="url(#tcl)" opacity="0.5"/><ellipse cx="4090" cy="1105" rx="20" ry="10" fill="url(#tcl)" opacity="0.6"/><ellipse cx="3956.2" cy="884.2" rx="7.9" ry="4.1" fill="url(#tcl)" opacity="0.74"/><ellipse cx="3965.5" cy="858.2" rx="7.0" ry="3.6" fill="url(#tcl)" opacity="0.70"/><ellipse cx="4066.9" cy="876.7" rx="5.3" ry="3.7" fill="url(#tcl)" opacity="0.93"/><ellipse cx="4012.0" cy="953.1" rx="9.9" ry="5.1" fill="url(#tcl)" opacity="0.89"/><ellipse cx="3952.9" cy="1070.5" rx="5.1" ry="3.4" fill="url(#tcl)" opacity="0.79"/><ellipse cx="3966.9" cy="995.4" rx="4.4" ry="2.3" fill="url(#tcl)" opacity="0.59"/><ellipse cx="4034.7" cy="961.7" rx="5.9" ry="4.0" fill="url(#tcl)" opacity="0.70"/><ellipse cx="3950.9" cy="1064.4" rx="8.2" ry="4.7" fill="url(#tcl)" opacity="0.76"/><ellipse cx="4000.5" cy="1087.0" rx="8.4" ry="4.9" fill="url(#tcl)" opacity="0.94"/><ellipse cx="3911.0" cy="959.1" rx="8.5" ry="4.7" fill="url(#tcl)" opacity="0.72"/><ellipse cx="3893.6" cy="1029.1" rx="8.6" ry="5.8" fill="url(#tcl)" opacity="0.89"/><ellipse cx="3954.0" cy="1036.7" rx="7.6" ry="5.1" fill="url(#tcl)" opacity="0.71"/><ellipse cx="4031.1" cy="859.0" rx="8.2" ry="5.7" fill="url(#tcl)" opacity="0.95"/><ellipse cx="4065.8" cy="921.7" rx="6.3" ry="4.4" fill="url(#tcl)" opacity="0.51"/><ellipse cx="3986.6" cy="889.1" rx="4.7" ry="2.4" fill="url(#tcl)" opacity="0.85"/><ellipse cx="3913.5" cy="911.3" rx="6.3" ry="4.8" fill="url(#tcl)" opacity="0.54"/><ellipse cx="3983.8" cy="995.8" rx="9.3" ry="6.9" fill="url(#tcl)" opacity="0.89"/><ellipse cx="3946.3" cy="958.3" rx="6.2" ry="4.7" fill="url(#tcl)" opacity="0.93"/><ellipse cx="3918.2" cy="891.3" rx="5.4" ry="3.1" fill="url(#tcl)" opacity="0.72"/><ellipse cx="4014.6" cy="915.6" rx="4.0" ry="2.5" fill="url(#tcl)" opacity="0.67"/><ellipse cx="4009.6" cy="1108.9" rx="7.1" ry="4.9" fill="url(#tcl)" opacity="0.80"/><ellipse cx="3896.9" cy="1093.9" rx="8.7" ry="6.6" fill="url(#tcl)" opacity="0.86"/><ellipse cx="3971.3" cy="953.7" rx="4.6" ry="3.2" fill="url(#tcl)" opacity="0.53"/><ellipse cx="3899.8" cy="900.5" rx="5.0" ry="3.0" fill="url(#tcl)" opacity="0.52"/><ellipse cx="3965.0" cy="849.1" rx="9.2" ry="6.3" fill="url(#tcl)" opacity="0.57"/><ellipse cx="3940.5" cy="939.3" rx="6.2" ry="3.3" fill="url(#tcl)" opacity="0.88"/><ellipse cx="4103.5" cy="972.5" rx="6.9" ry="3.6" fill="url(#tcl)" opacity="0.55"/><ellipse cx="3960.4" cy="916.1" rx="9.0" ry="4.9" fill="url(#tcl)" opacity="0.51"/><ellipse cx="4094.2" cy="989.9" rx="4.9" ry="3.2" fill="url(#tcl)" opacity="0.51"/><ellipse cx="4001.2" cy="1116.0" rx="8.2" ry="4.7" fill="url(#tcl)" opacity="0.67"/><ellipse cx="3921.7" cy="1058.1" rx="7.2" ry="5.3" fill="url(#tcl)" opacity="0.65"/><ellipse cx="3934.1" cy="1069.2" rx="9.9" ry="7.5" fill="url(#tcl)" opacity="0.86"/><ellipse cx="4065.0" cy="1049.2" rx="5.4" ry="3.5" fill="url(#tcl)" opacity="0.66"/><ellipse cx="3942.0" cy="1035.9" rx="9.7" ry="6.2" fill="url(#tcl)" opacity="0.92"/><ellipse cx="3933.5" cy="905.5" rx="5.2" ry="2.9" fill="url(#tcl)" opacity="0.78"/><ellipse cx="4083.1" cy="1077.3" rx="6.9" ry="4.8" fill="url(#tcl)" opacity="0.86"/><ellipse cx="3903.7" cy="1027.0" rx="9.5" ry="6.9" fill="url(#tcl)" opacity="0.84"/><ellipse cx="3990.2" cy="892.0" rx="8.7" ry="5.2" fill="url(#tcl)" opacity="0.86"/><ellipse cx="4098.8" cy="952.8" rx="6.4" ry="5.0" fill="url(#tcl)" opacity="0.83"/><ellipse cx="4084.1" cy="1067.8" rx="4.9" ry="3.6" fill="url(#tcl)" opacity="0.94"/><ellipse cx="4029.6" cy="940.1" rx="7.3" ry="3.9" fill="url(#tcl)" opacity="0.51"/><ellipse cx="4098.6" cy="1023.9" rx="7.2" ry="5.6" fill="url(#tcl)" opacity="0.70"/><ellipse cx="4076.8" cy="1073.3" rx="5.3" ry="3.0" fill="url(#tcl)" opacity="0.63"/><ellipse cx="3937.9" cy="1006.2" rx="5.6" ry="3.5" fill="url(#tcl)" opacity="0.56"/><ellipse cx="4085.2" cy="941.1" rx="6.7" ry="4.6" fill="url(#tcl)" opacity="0.91"/><ellipse cx="3977.5" cy="1099.0" rx="7.0" ry="4.6" fill="url(#tcl)" opacity="0.74"/><ellipse cx="3889.1" cy="965.2" rx="5.1" ry="2.6" fill="url(#tcl)" opacity="0.86"/><ellipse cx="3922.9" cy="974.6" rx="8.4" ry="5.6" fill="url(#tcl)" opacity="0.65"/><ellipse cx="3999.0" cy="997.5" rx="8.7" ry="4.6" fill="url(#tcl)" opacity="0.75"/><ellipse cx="3939.7" cy="919.5" rx="8.6" ry="5.6" fill="url(#tcl)" opacity="0.75"/><ellipse cx="4019.8" cy="983.6" rx="7.1" ry="5.0" fill="url(#tcl)" opacity="0.70"/><ellipse cx="4002.3" cy="975.9" rx="9.6" ry="6.8" fill="url(#tcl)" opacity="0.89"/><ellipse cx="4092.3" cy="914.7" rx="7.4" ry="5.8" fill="url(#tcl)" opacity="0.88"/><ellipse cx="3901.0" cy="909.4" rx="4.4" ry="3.1" fill="url(#tcl)" opacity="0.85"/><ellipse cx="4082.3" cy="885.2" rx="8.3" ry="5.8" fill="url(#tcl)" opacity="0.56"/><ellipse cx="4094.6" cy="953.5" rx="6.9" ry="5.5" fill="url(#tcl)" opacity="0.87"/><ellipse cx="3920.5" cy="962.8" rx="7.1" ry="4.3" fill="url(#tcl)" opacity="0.59"/><ellipse cx="3955.1" cy="1044.2" rx="4.1" ry="2.7" fill="url(#tcl)" opacity="0.70"/><ellipse cx="3889.0" cy="934.8" rx="7.7" ry="5.1" fill="url(#tcl)" opacity="0.53"/><ellipse cx="4101.7" cy="1062.7" rx="9.8" ry="5.2" fill="url(#tcl)" opacity="0.62"/><ellipse cx="3893.7" cy="1060.1" rx="5.6" ry="3.0" fill="url(#tcl)" opacity="0.69"/><ellipse cx="4085.5" cy="1071.3" rx="5.6" ry="3.0" fill="url(#tcl)" opacity="0.91"/><ellipse cx="4010.5" cy="1038.1" rx="4.5" ry="2.3" fill="url(#tcl)" opacity="0.81"/><ellipse cx="3978.6" cy="862.3" rx="9.6" ry="6.6" fill="url(#tcl)" opacity="0.86"/><ellipse cx="3903.4" cy="1081.7" rx="4.4" ry="3.3" fill="url(#tcl)" opacity="0.70"/><ellipse cx="3959.6" cy="996.9" rx="9.6" ry="5.5" fill="url(#tcl)" opacity="0.56"/><ellipse cx="4000.9" cy="908.8" rx="4.7" ry="2.6" fill="url(#tcl)" opacity="0.52"/><ellipse cx="3929.4" cy="929.4" rx="5.8" ry="4.2" fill="url(#tcl)" opacity="0.63"/><ellipse cx="3995.0" cy="891.8" rx="6.1" ry="3.1" fill="url(#tcl)" opacity="0.61"/><ellipse cx="3888.4" cy="1047.3" rx="7.3" ry="4.1" fill="url(#tcl)" opacity="0.71"/><ellipse cx="4090.6" cy="871.8" rx="8.9" ry="5.6" fill="url(#tcl)" opacity="0.72"/><ellipse cx="4068.6" cy="952.1" rx="7.0" ry="5.0" fill="url(#tcl)" opacity="0.94"/><ellipse cx="3960.4" cy="1075.0" rx="8.2" ry="5.7" fill="url(#tcl)" opacity="0.68"/><ellipse cx="3961.5" cy="857.2" rx="4.8" ry="2.5" fill="url(#tcl)" opacity="0.83"/><ellipse cx="4070.1" cy="1085.8" rx="8.0" ry="4.7" fill="url(#tcl)" opacity="0.61"/><ellipse cx="3949.5" cy="970.6" rx="4.9" ry="3.1" fill="url(#tcl)" opacity="0.62"/><ellipse cx="4096.6" cy="1114.3" rx="5.5" ry="4.3" fill="url(#tcl)" opacity="0.64"/><ellipse cx="3963.4" cy="842.3" rx="6.3" ry="4.0" fill="url(#tcl)" opacity="0.73"/><ellipse cx="3929.2" cy="983.3" rx="4.0" ry="2.3" fill="url(#tcl)" opacity="0.54"/><ellipse cx="3972.9" cy="853.7" rx="4.1" ry="2.4" fill="url(#tcl)" opacity="0.60"/><ellipse cx="4013.8" cy="990.2" rx="8.5" ry="5.9" fill="url(#tcl)" opacity="0.82"/><ellipse cx="4078.4" cy="951.1" rx="6.0" ry="4.7" fill="url(#tcl)" opacity="0.57"/><ellipse cx="4044.3" cy="1022.1" rx="4.3" ry="3.2" fill="url(#tcl)" opacity="0.90"/><ellipse cx="4023.0" cy="1047.5" rx="8.9" ry="4.8" fill="url(#tcl)" opacity="0.74"/><ellipse cx="3996.0" cy="1075.8" rx="8.8" ry="6.6" fill="url(#tcl)" opacity="0.76"/><ellipse cx="4081.4" cy="1033.2" rx="8.2" ry="4.6" fill="url(#tcl)" opacity="0.51"/><ellipse cx="3914.3" cy="943.0" rx="4.6" ry="3.5" fill="url(#tcl)" opacity="0.75"/><ellipse cx="4023.1" cy="1017.3" rx="8.1" ry="5.2" fill="url(#tcl)" opacity="0.50"/><ellipse cx="4060.5" cy="1051.5" rx="7.0" ry="4.6" fill="url(#tcl)" opacity="0.80"/><ellipse cx="3899.5" cy="1048.3" rx="5.5" ry="2.9" fill="url(#tcl)" opacity="0.62"/><ellipse cx="4045.5" cy="899.5" rx="8.4" ry="6.7" fill="url(#tcl)" opacity="0.72"/><ellipse cx="3969.2" cy="976.1" rx="8.1" ry="5.9" fill="url(#tcl)" opacity="0.78"/><ellipse cx="4026.4" cy="863.7" rx="4.9" ry="2.8" fill="url(#tcl)" opacity="0.83"/><ellipse cx="3952.0" cy="1001.0" rx="4.1" ry="2.1" fill="url(#tcl)" opacity="0.62"/><ellipse cx="4032.8" cy="1035.8" rx="8.1" ry="4.7" fill="url(#tcl)" opacity="0.73"/><ellipse cx="3987.2" cy="972.6" rx="4.7" ry="3.6" fill="url(#tcl)" opacity="0.59"/><ellipse cx="3986.0" cy="1071.6" rx="9.8" ry="6.2" fill="url(#tcl)" opacity="0.62"/><ellipse cx="3931.2" cy="1106.8" rx="5.3" ry="3.6" fill="url(#tcl)" opacity="0.56"/><ellipse cx="4065.4" cy="984.4" rx="9.3" ry="6.6" fill="url(#tcl)" opacity="0.60"/><ellipse cx="4082.5" cy="978.1" rx="4.1" ry="2.1" fill="url(#tcl)" opacity="0.72"/><ellipse cx="3984.2" cy="926.5" rx="4.8" ry="2.9" fill="url(#tcl)" opacity="0.64"/><ellipse cx="4069.9" cy="842.5" rx="8.5" ry="6.4" fill="url(#tcl)" opacity="0.55"/><ellipse cx="4088.8" cy="1041.6" rx="9.4" ry="5.5" fill="url(#tcl)" opacity="0.67"/><ellipse cx="3971.4" cy="1121.7" rx="7.5" ry="4.6" fill="url(#tcl)" opacity="0.69"/><ellipse cx="4068.6" cy="922.0" rx="9.6" ry="5.5" fill="url(#tcl)" opacity="0.62"/><ellipse cx="3997.4" cy="895.2" rx="6.2" ry="4.9" fill="url(#tcl)" opacity="0.90"/><ellipse cx="4063.6" cy="1018.7" rx="9.5" ry="7.4" fill="url(#tcl)" opacity="0.75"/><ellipse cx="4043.3" cy="855.9" rx="8.4" ry="5.3" fill="url(#tcl)" opacity="0.84"/><ellipse cx="4026.8" cy="922.1" rx="4.3" ry="3.3" fill="url(#tcl)" opacity="0.56"/><ellipse cx="3988.9" cy="938.2" rx="5.8" ry="4.2" fill="url(#tcl)" opacity="0.94"/><ellipse cx="3942.2" cy="1025.7" rx="5.8" ry="3.9" fill="url(#tcl)" opacity="0.68"/><ellipse cx="4084.3" cy="981.2" rx="5.3" ry="4.1" fill="url(#tcl)" opacity="0.95"/><ellipse cx="3984.0" cy="881.1" rx="5.2" ry="2.7" fill="url(#tcl)" opacity="0.65"/><ellipse cx="3905.0" cy="909.0" rx="5.6" ry="3.7" fill="url(#tcl)" opacity="0.90"/><ellipse cx="4049.9" cy="957.6" rx="6.5" ry="4.3" fill="url(#tcl)" opacity="0.67"/><ellipse cx="3959.4" cy="859.4" rx="5.7" ry="4.5" fill="url(#tcl)" opacity="0.56"/><ellipse cx="3995.7" cy="1018.3" rx="9.2" ry="5.2" fill="url(#tcl)" opacity="0.62"/><ellipse cx="3939.7" cy="953.9" rx="6.7" ry="5.2" fill="url(#tcl)" opacity="0.88"/><ellipse cx="4077.0" cy="848.1" rx="4.2" ry="3.0" fill="url(#tcl)" opacity="0.90"/><ellipse cx="3989.1" cy="1006.4" rx="4.0" ry="2.5" fill="url(#tcl)" opacity="0.92"/><ellipse cx="4066.6" cy="1081.5" rx="9.8" ry="5.6" fill="url(#tcl)" opacity="0.55"/><ellipse cx="3919.0" cy="988.3" rx="8.1" ry="6.3" fill="url(#tcl)" opacity="0.82"/><ellipse cx="4027.4" cy="1056.1" rx="6.7" ry="4.5" fill="url(#tcl)" opacity="0.52"/><ellipse cx="4057.1" cy="907.1" rx="9.5" ry="6.6" fill="url(#tcl)" opacity="0.64"/><ellipse cx="3913.2" cy="912.5" rx="7.8" ry="5.5" fill="url(#tcl)" opacity="0.55"/><ellipse cx="3900.5" cy="988.8" rx="7.5" ry="4.6" fill="url(#tcl)" opacity="0.60"/><ellipse cx="4017.2" cy="844.9" rx="5.8" ry="3.7" fill="url(#tcl)" opacity="0.93"/><ellipse cx="4026.8" cy="1089.5" rx="6.9" ry="3.9" fill="url(#tcl)" opacity="0.61"/><ellipse cx="4096.3" cy="1039.3" rx="5.8" ry="3.0" fill="url(#tcl)" opacity="0.72"/><ellipse cx="4033.4" cy="959.6" rx="5.5" ry="3.9" fill="url(#tcl)" opacity="0.92"/><ellipse cx="3977.5" cy="1033.1" rx="5.2" ry="3.8" fill="url(#tcl)" opacity="0.83"/><ellipse cx="3996.1" cy="899.5" rx="9.8" ry="5.8" fill="url(#tcl)" opacity="0.87"/><ellipse cx="3935.8" cy="904.0" rx="8.6" ry="5.0" fill="url(#tcl)" opacity="0.93"/><ellipse cx="3994.1" cy="894.4" rx="5.3" ry="3.3" fill="url(#tcl)" opacity="0.80"/><ellipse cx="4093.7" cy="883.0" rx="6.4" ry="3.6" fill="url(#tcl)" opacity="0.94"/><ellipse cx="3971.5" cy="1093.5" rx="9.3" ry="6.7" fill="url(#tcl)" opacity="0.95"/><ellipse cx="4090.0" cy="934.2" rx="5.1" ry="4.0" fill="url(#tcl)" opacity="0.84"/><ellipse cx="3892.0" cy="1028.0" rx="6.3" ry="3.8" fill="url(#tcl)" opacity="0.65"/><ellipse cx="3962.3" cy="1109.5" rx="4.7" ry="3.7" fill="url(#tcl)" opacity="0.59"/><ellipse cx="3963.5" cy="1072.0" rx="8.9" ry="5.6" fill="url(#tcl)" opacity="0.52"/><ellipse cx="3989.2" cy="946.4" rx="9.5" ry="5.3" fill="url(#tcl)" opacity="0.66"/><ellipse cx="4082.3" cy="850.5" rx="6.5" ry="4.8" fill="url(#tcl)" opacity="0.85"/><ellipse cx="4087.4" cy="914.0" rx="8.5" ry="6.5" fill="url(#tcl)" opacity="0.65"/><ellipse cx="3944.9" cy="1110.2" rx="7.7" ry="4.5" fill="url(#tcl)" opacity="0.82"/><ellipse cx="3954.6" cy="919.2" rx="4.0" ry="2.9" fill="url(#tcl)" opacity="0.91"/><ellipse cx="3936.5" cy="975.1" rx="9.7" ry="7.7" fill="url(#tcl)" opacity="0.67"/><ellipse cx="3940.2" cy="962.4" rx="7.0" ry="5.4" fill="url(#tcl)" opacity="0.58"/><ellipse cx="4061.6" cy="1048.8" rx="8.9" ry="6.5" fill="url(#tcl)" opacity="0.77"/><ellipse cx="3957.1" cy="931.5" rx="6.2" ry="4.5" fill="url(#tcl)" opacity="0.54"/><ellipse cx="3928.4" cy="1052.8" rx="5.5" ry="2.8" fill="url(#tcl)" opacity="0.52"/><polyline points="3929,1122 3947,1040 3958,990 3966,950 3970,905" fill="none" stroke="#141414" stroke-width="3.2"/><polyline points="4046,1122 4030,1040 4012,990 3998,950 3992,905" fill="none" stroke="#141414" stroke-width="3.2"/><line x1="3929.0" y1="1122" x2="4039.8" y2="1090" stroke="#141414" stroke-width="1.6"/><line x1="4046.0" y1="1122" x2="3936.0" y2="1090" stroke="#141414" stroke-width="1.6"/><line x1="3936.0" y1="1090" x2="4039.8" y2="1090" stroke="#141414" stroke-width="1.4"/><line x1="3936.0" y1="1090" x2="4033.9" y2="1060" stroke="#141414" stroke-width="1.6"/><line x1="4039.8" y1="1090" x2="3942.6" y2="1060" stroke="#141414" stroke-width="1.6"/><line x1="3942.6" y1="1060" x2="4033.9" y2="1060" stroke="#141414" stroke-width="1.4"/><line x1="3942.6" y1="1060" x2="4026.4" y2="1030" stroke="#141414" stroke-width="1.6"/><line x1="4033.9" y1="1060" x2="3949.2" y2="1030" stroke="#141414" stroke-width="1.6"/><line x1="3949.2" y1="1030" x2="4026.4" y2="1030" stroke="#141414" stroke-width="1.4"/><line x1="3949.2" y1="1030" x2="4017.4" y2="1005" stroke="#141414" stroke-width="1.6"/><line x1="4026.4" y1="1030" x2="3954.7" y2="1005" stroke="#141414" stroke-width="1.6"/><line x1="3954.7" y1="1005" x2="4017.4" y2="1005" stroke="#141414" stroke-width="1.4"/><line x1="3954.7" y1="1005" x2="4008.5" y2="980" stroke="#141414" stroke-width="1.6"/><line x1="4017.4" y1="1005" x2="3960.0" y2="980" stroke="#141414" stroke-width="1.6"/><line x1="3960.0" y1="980" x2="4008.5" y2="980" stroke="#141414" stroke-width="1.4"/><line x1="3960.0" y1="980" x2="3999.8" y2="955" stroke="#141414" stroke-width="1.6"/><line x1="4008.5" y1="980" x2="3965.0" y2="955" stroke="#141414" stroke-width="1.6"/><line x1="3965.0" y1="955" x2="3999.8" y2="955" stroke="#141414" stroke-width="1.4"/><line x1="3965.0" y1="955" x2="3995.3" y2="930" stroke="#141414" stroke-width="1.6"/><line x1="3999.8" y1="955" x2="3967.8" y2="930" stroke="#141414" stroke-width="1.6"/><line x1="3967.8" y1="930" x2="3995.3" y2="930" stroke="#141414" stroke-width="1.4"/><line x1="3967.8" y1="930" x2="3992.0" y2="905" stroke="#141414" stroke-width="1.6"/><line x1="3995.3" y1="930" x2="3970.0" y2="905" stroke="#141414" stroke-width="1.6"/><line x1="3970.0" y1="905" x2="3992.0" y2="905" stroke="#141414" stroke-width="1.4"/><polyline points="3985,1122 3981,905" fill="none" stroke="#141414" stroke-width="2"/><polygon points="3913,1007 3985,987 4066,1003 3985,1001" fill="none" stroke="#141414" stroke-width="2.2"/><line x1="3913" y1="1007" x2="4066" y2="1003" stroke="#141414" stroke-width="1.5"/><line x1="3925.0" y1="1003.7" x2="3931.0" y2="1006.0" stroke="#141414" stroke-width="1"/><line x1="3998.5" y1="989.7" x2="3992.5" y2="1001.3" stroke="#141414" stroke-width="1"/><line x1="3937.0" y1="1000.3" x2="3943.0" y2="1005.0" stroke="#141414" stroke-width="1"/><line x1="4012.0" y1="992.3" x2="4006.0" y2="1001.7" stroke="#141414" stroke-width="1"/><line x1="3949.0" y1="997.0" x2="3955.0" y2="1004.0" stroke="#141414" stroke-width="1"/><line x1="4025.5" y1="995.0" x2="4019.5" y2="1002.0" stroke="#141414" stroke-width="1"/><line x1="3961.0" y1="993.7" x2="3967.0" y2="1003.0" stroke="#141414" stroke-width="1"/><line x1="4039.0" y1="997.7" x2="4033.0" y2="1002.3" stroke="#141414" stroke-width="1"/><line x1="3973.0" y1="990.3" x2="3979.0" y2="1002.0" stroke="#141414" stroke-width="1"/><line x1="4052.5" y1="1000.3" x2="4046.5" y2="1002.7" stroke="#141414" stroke-width="1"/><polygon points="3922,970 3985,950 4063,945 3985,964" fill="none" stroke="#141414" stroke-width="2.2"/><line x1="3922" y1="970" x2="4063" y2="945" stroke="#141414" stroke-width="1.5"/><line x1="3932.5" y1="966.7" x2="3938.5" y2="969.0" stroke="#141414" stroke-width="1"/><line x1="3998.0" y1="949.2" x2="3992.0" y2="960.8" stroke="#141414" stroke-width="1"/><line x1="3943.0" y1="963.3" x2="3949.0" y2="968.0" stroke="#141414" stroke-width="1"/><line x1="4011.0" y1="948.3" x2="4005.0" y2="957.7" stroke="#141414" stroke-width="1"/><line x1="3953.5" y1="960.0" x2="3959.5" y2="967.0" stroke="#141414" stroke-width="1"/><line x1="4024.0" y1="947.5" x2="4018.0" y2="954.5" stroke="#141414" stroke-width="1"/><line x1="3964.0" y1="956.7" x2="3970.0" y2="966.0" stroke="#141414" stroke-width="1"/><line x1="4037.0" y1="946.7" x2="4031.0" y2="951.3" stroke="#141414" stroke-width="1"/><line x1="3974.5" y1="953.3" x2="3980.5" y2="965.0" stroke="#141414" stroke-width="1"/><line x1="4050.0" y1="945.8" x2="4044.0" y2="948.2" stroke="#141414" stroke-width="1"/><polygon points="3949,903 3985,902 4043,930 3985,916" fill="none" stroke="#141414" stroke-width="2.2"/><line x1="3949" y1="903" x2="4043" y2="930" stroke="#141414" stroke-width="1.5"/><line x1="3955.0" y1="902.8" x2="3961.0" y2="905.2" stroke="#141414" stroke-width="1"/><line x1="3994.7" y1="906.7" x2="3988.7" y2="918.3" stroke="#141414" stroke-width="1"/><line x1="3961.0" y1="902.7" x2="3967.0" y2="907.3" stroke="#141414" stroke-width="1"/><line x1="4004.3" y1="911.3" x2="3998.3" y2="920.7" stroke="#141414" stroke-width="1"/><line x1="3967.0" y1="902.5" x2="3973.0" y2="909.5" stroke="#141414" stroke-width="1"/><line x1="4014.0" y1="916.0" x2="4008.0" y2="923.0" stroke="#141414" stroke-width="1"/><line x1="3973.0" y1="902.3" x2="3979.0" y2="911.7" stroke="#141414" stroke-width="1"/><line x1="4023.7" y1="920.7" x2="4017.7" y2="925.3" stroke="#141414" stroke-width="1"/><line x1="3979.0" y1="902.2" x2="3985.0" y2="913.8" stroke="#141414" stroke-width="1"/><line x1="4033.3" y1="925.3" x2="4027.3" y2="927.7" stroke="#141414" stroke-width="1"/><polyline points="3970,905 3975,880 3995,870 4019,846" fill="none" stroke="#141414" stroke-width="2"/><polyline points="3992,905 4005,880 4019,846" fill="none" stroke="#141414" stroke-width="1.6"/><line x1="3925" y1="971" x2="3925" y2="989" stroke="#333" stroke-width="2.5"/><line x1="4063" y1="946" x2="4063" y2="964" stroke="#333" stroke-width="2.5"/><line x1="4066" y1="1004" x2="4066" y2="1022" stroke="#333" stroke-width="2.5"/><line x1="3913" y1="1008" x2="3913" y2="1026" stroke="#333" stroke-width="2.5"/><line x1="4043" y1="931" x2="4043" y2="949" stroke="#333" stroke-width="2.5"/><g stroke="#444" stroke-width="0.8" opacity="0.7"><line x1="3885" y1="960" x2="3925" y2="988"/><line x1="3885" y1="1000" x2="3913" y2="1025"/><line x1="4063" y1="962" x2="4105" y2="1000"/><line x1="4066" y1="1020" x2="4105" y2="1050"/></g></g></g>
<g id="charge">
<defs><linearGradient id="cbg" x1="0" y1="0" x2="0" y2="1"><stop offset="0" stop-color="#bdbdbd"/><stop offset="0.35" stop-color="#d4d6d8"/><stop offset="0.45" stop-color="#c8ced6"/><stop offset="1" stop-color="#9eacbe"/></linearGradient>
<linearGradient id="cpan" x1="0" y1="0" x2="1" y2="1"><stop offset="0" stop-color="#2e4a6e"/><stop offset="1" stop-color="#3c5a80"/></linearGradient>
<linearGradient id="cbus" x1="0" y1="0" x2="0" y2="1"><stop offset="0" stop-color="#e8eaee"/><stop offset="1" stop-color="#b8bec6"/></linearGradient>
<clipPath id="cclip"><rect x="4263" y="1130" width="481" height="231"/></clipPath></defs>
<g clip-path="url(#cclip)">
<rect x="4263" y="1130" width="481" height="231" fill="url(#cbg)"/>
<polygon points="4263,1236 4536,1228 4744,1260 4744,1361 4263,1361" fill="#a8b4c4" opacity="0.6"/>
<g stroke="#f2f4f6" stroke-width="2.2" fill="none">
<line x1="4263" y1="1236" x2="4325" y2="1361"/><line x1="4308" y1="1318" x2="4553" y2="1289"/><line x1="4319" y1="1342" x2="4636" y2="1312"/><line x1="4393" y1="1361" x2="4681" y2="1344"/><line x1="4290" y1="1290" x2="4420" y2="1276"/>
</g>
<polygon points="4536,1268 4550,1266 4726,1336 4722,1346" fill="#dfe8f4"/>
<g fill="#2a2a2a" opacity="0.7"><rect x="4580" y="1292" width="30" height="3" transform="rotate(22 4595 1293)"/><rect x="4650" y="1320" width="30" height="3" transform="rotate(22 4665 1321)"/></g>
<rect x="4270" y="1183" width="132" height="40" rx="8" fill="url(#cbus)"/>
<rect x="4278" y="1189" width="110" height="11" fill="#3a3c40"/>
<circle cx="4312" cy="1218" r="6" fill="#555"/><circle cx="4376" cy="1216" r="6" fill="#555"/>
<g fill="#e6ce20"><rect x="4400" y="1213" width="6" height="8"/><rect x="4425" y="1222" width="6" height="8"/></g>
<rect x="4319" y="1232" width="226" height="70" rx="12" fill="url(#cbus)"/>
<polygon points="4334,1244 4530,1238 4540,1268 4334,1270" fill="#2e3034"/>
<g stroke="#9aa" stroke-width="1" opacity="0.6"><line x1="4360" y1="1244" x2="4360" y2="1270"/><line x1="4390" y1="1243" x2="4390" y2="1270"/><line x1="4420" y1="1242" x2="4420" y2="1270"/><line x1="4450" y1="1241" x2="4450" y2="1270"/><line x1="4480" y1="1240" x2="4480" y2="1269"/></g>
<circle cx="4391" cy="1294" r="9" fill="#5a5c60"/><circle cx="4496" cy="1283" r="9" fill="#5a5c60"/>
<g fill="#8a8e94"><ellipse cx="4294" cy="1283" rx="5" ry="6"/><rect x="4289" y="1288" width="10" height="28"/><ellipse cx="4311" cy="1286" rx="5" ry="6"/><rect x="4306" y="1291" width="10" height="27"/></g>
<polygon points="4294,1153 4374,1137 4621,1169 4658,1173 4740,1204 4738,1213 4645,1222 4457,1232" fill="#c8ecf8"/>
<polygon points="4303,1154 4376,1141 4618,1172 4455,1212" fill="url(#cpan)"/>
<g stroke="#7ea4c8" stroke-width="1" opacity="0.8">
<line x1="4330" y1="1149" x2="4470" y2="1205"/><line x1="4360" y1="1144" x2="4510" y2="1197"/><line x1="4400" y1="1146" x2="4550" y2="1188"/><line x1="4450" y1="1152" x2="4590" y2="1180"/>
<line x1="4320" y1="1160" x2="4600" y2="1175"/><line x1="4345" y1="1170" x2="4560" y2="1185"/><line x1="4375" y1="1182" x2="4520" y2="1195"/><line x1="4410" y1="1196" x2="4485" y2="1203"/>
</g>
<polygon points="4457,1230 4658,1176 4736,1207 4645,1220" fill="#eaf6fc"/>
<g stroke="#b0dcf0" stroke-width="1.5"><line x1="4645" y1="1220" x2="4600" y2="1190"/><line x1="4645" y1="1220" x2="4630" y2="1183"/><line x1="4645" y1="1220" x2="4670" y2="1185"/><line x1="4645" y1="1220" x2="4700" y2="1195"/><line x1="4645" y1="1220" x2="4560" y2="1210"/></g>
<line x1="4457" y1="1231" x2="4645" y2="1221" stroke="#c0e8f8" stroke-width="3"/>
<rect x="4555" y="1231" width="7" height="78" fill="#eef2f6"/>
<rect x="4642" y="1220" width="8" height="135" fill="#f0f4f8"/>
<g fill="#1a1a1a"><rect x="4552" y="1286" width="12" height="5"/><rect x="4552" y="1296" width="12" height="5"/><rect x="4633" y="1327" width="16" height="6"/><rect x="4633" y="1339" width="16" height="6"/></g>
<g fill="#e8d820"><rect x="4552" y="1291" width="12" height="5"/><rect x="4552" y="1301" width="12" height="8"/><rect x="4633" y="1333" width="16" height="6"/><rect x="4633" y="1345" width="16" height="10"/></g>
<g fill="#2aa050"><rect x="4536" y="1250" width="9" height="30"/><rect x="4562" y="1250" width="9" height="32"/><rect x="4589" y="1256" width="11" height="34"/><rect x="4624" y="1269" width="12" height="36"/><rect x="4671" y="1280" width="12" height="38"/></g>
<g fill="#f4f4f4"><rect x="4563" y="1256" width="6" height="14"/><rect x="4590" y="1262" width="7" height="16"/><rect x="4625" y="1276" width="8" height="17"/><rect x="4672" y="1288" width="8" height="18"/></g>
<g fill="#222"><rect x="4589" y="1256" width="11" height="4"/><rect x="4624" y="1269" width="12" height="4"/><rect x="4671" y="1280" width="12" height="4"/></g>
</g></g>
<g id="laptop">
<defs><linearGradient id="lbase" x1="0" y1="0" x2="0" y2="1"><stop offset="0" stop-color="#e8e8ea"/><stop offset="0.5" stop-color="#c8c8cc"/><stop offset="1" stop-color="#8a8a8e"/></linearGradient></defs>
<rect x="3850" y="1619" width="357" height="228" rx="10" fill="#0a0a0a"/>
<rect x="3861" y="1633" width="335" height="199" fill="#c8daf0"/>
<rect x="3861" y="1633" width="335" height="16" fill="#f8f8fa"/>
<rect x="3864" y="1636" width="22" height="6" fill="#d04040" opacity="0.7"/>
<rect x="3896" y="1636" width="68" height="7" fill="#333" opacity="0.8"/>
<rect x="3861" y="1649" width="335" height="10" fill="#a8c4e8"/>
<rect x="3861" y="1659" width="335" height="9" fill="#2a5c9c"/>
<rect x="3873" y="1673" width="115" height="55" fill="#d4e2f2" stroke="#b8c8dc" stroke-width="1"/>
<rect x="3993" y="1673" width="95" height="55" fill="#d4e2f2" stroke="#b8c8dc" stroke-width="1"/>
<polygon points="3887,1688 3925,1692 3925,1708 3887,1712" fill="#9a9aa0"/>
<rect x="3944" y="1687" width="16" height="30" fill="#e8e8ec" stroke="#999" stroke-width="1"/>
<rect x="4005" y="1680" width="14" height="18" fill="#f0f0f0" stroke="#999" stroke-width="1"/><rect x="4050" y="1680" width="14" height="18" fill="#f0f0f0" stroke="#999" stroke-width="1"/>
<g fill="#30b070"><rect x="4022" y="1684" width="8" height="4"/><rect x="4067" y="1684" width="8" height="4"/><rect x="4112" y="1680" width="8" height="4"/></g>
<g fill="#8060a0"><rect x="4022" y="1692" width="8" height="4"/><rect x="4067" y="1692" width="8" height="4"/><rect x="4112" y="1688" width="8" height="4"/></g>
<circle cx="4100" cy="1686" r="7" fill="#444"/>
<rect x="4150" y="1680" width="24" height="33" fill="#8a6a30"/>
<rect x="4155" y="1690" width="14" height="18" fill="#e0a030" opacity="0.7"/>
<rect x="3875" y="1747" width="309" height="3" fill="#d03050"/>
<rect x="4154" y="1726" width="38" height="2" fill="#d03050"/>
<line x1="4101" y1="1692" x2="4101" y2="1748" stroke="#d03050" stroke-width="1"/>
<path d="M3885,1785 V1773 H4008 V1785 M3914,1773 V1785 M3943,1773 V1785 M3972,1773 V1785" fill="none" stroke="#d03050" stroke-width="1.2"/>
<path d="M4044,1785 V1773 H4168 V1785 M4069,1773 V1785 M4094,1773 V1785 M4118,1773 V1785 M4143,1773 V1785" fill="none" stroke="#d03050" stroke-width="1.2"/>
<line x1="3947" y1="1750" x2="3947" y2="1773" stroke="#d03050" stroke-width="1.2"/><line x1="4132" y1="1750" x2="4132" y2="1773" stroke="#d03050" stroke-width="1.2"/>
<g fill="#e02030"><rect x="3945" y="1732" width="4" height="8"/><rect x="3945" y="1762" width="4" height="8"/><rect x="4131" y="1762" width="4" height="8"/><rect x="4160" y="1734" width="4" height="8"/>
<rect x="4042" y="1787" width="4" height="8"/><rect x="4067" y="1787" width="4" height="8"/><rect x="4092" y="1787" width="4" height="8"/><rect x="4116" y="1787" width="4" height="8"/><rect x="4141" y="1787" width="4" height="8"/><rect x="4166" y="1787" width="4" height="8"/></g>
<g fill="#f0b8c8"><rect x="3883" y="1785" width="5" height="10"/><rect x="3912" y="1785" width="5" height="10"/><rect x="3941" y="1785" width="5" height="10"/><rect x="3970" y="1785" width="5" height="10"/><rect x="4006" y="1785" width="5" height="10"/></g>
<g fill="#4a5aa0"><rect x="3879" y="1806" width="11" height="9"/><rect x="3937" y="1806" width="11" height="9"/></g>
<g fill="#8a8478"><rect x="3908" y="1806" width="11" height="9"/><rect x="3966" y="1806" width="11" height="9"/><rect x="3996" y="1806" width="11" height="9"/></g>
<g fill="#30b070"><rect x="3893" y="1806" width="7" height="3"/><rect x="3922" y="1806" width="7" height="3"/><rect x="3951" y="1806" width="7" height="3"/><rect x="3980" y="1806" width="7" height="3"/><rect x="4010" y="1806" width="7" height="3"/></g>
<g fill="#90b8a0" stroke="#6a8a9a" stroke-width="1"><rect x="4037" y="1803" width="14" height="15"/><rect x="4062" y="1803" width="14" height="15"/><rect x="4087" y="1803" width="14" height="15"/><rect x="4111" y="1803" width="14" height="15"/><rect x="4136" y="1803" width="14" height="15"/><rect x="4161" y="1803" width="14" height="15"/></g>
<path d="M3808,1847 H4249 L4246,1856 Q4240,1860 4230,1860 H3828 Q3816,1860 3810,1856 Z" fill="url(#lbase)"/>
<rect x="3998" y="1847" width="60" height="4" rx="2" fill="#a8a8ac"/>
</g><g id="logo" fill="#de2a2e">
<path d="M4451,189 Q4451,182 4458,182 H4483 V194 H4462 V205 H4482 V216 H4462 V229 H4494 V240 H4458 Q4451,240 4451,233 Z"/>
<path d="M4480,236 L4509,185 Q4511,182 4515,182 H4531 V240 H4521 V229 H4504 L4499,237 Q4497,240 4493,240 H4484 Q4479,240 4480,236 Z M4510,216 H4521 V193 Z"/>
<rect x="4531" y="216" width="12" height="3" opacity="0.6"/><rect x="4531" y="221" width="14" height="2.5" opacity="0.5"/><rect x="4531" y="225" width="10" height="2.5" opacity="0.5"/>
<rect x="4483" y="182" width="10" height="3" opacity="0.75"/><rect x="4483" y="186.5" width="12" height="3" opacity="0.7"/><rect x="4483" y="191" width="9" height="3" opacity="0.7"/>
<path d="M4548,182 H4603 V194 H4548 V206 H4580 Q4588,206 4588,214 V232 Q4588,240 4580,240 H4531 V229 H4577 V217 H4546 Q4536,217 4536,207 V192 Q4536,182 4548,182 Z"/>
<path d="M4592,190 H4603 V234 Q4603,240 4597.5,240 Q4592,240 4592,234 Z"/>
<rect x="4603" y="182" width="6" height="12"/>
<rect x="4609" y="182" width="11" height="3" opacity="0.75"/><rect x="4609" y="186.5" width="13" height="3" opacity="0.7"/><rect x="4609" y="191" width="10" height="3" opacity="0.7"/>
<circle cx="4639" cy="182" r="6.5" fill="none" stroke="#c23a3e" stroke-width="1.5"/>
<text x="4635.5" y="186" font-size="9" fill="#c23a3e" font-family="Liberation Sans">R</text>
</g>

<polygon id="slash" points="4723.7,3286 4731.4,3286 4751.2,3232 4743.4,3232" fill="#3453a5"/>
<g id="yst" transform="translate(4640,170) scale(0.08177)" fill="none" stroke="#da2a2e" stroke-linecap="round" stroke-linejoin="round">
<path stroke-width="55" d="M270,185 L480,140 M485,160 L445,560 M290,250 L325,540 M320,395 L455,355 M300,530 L440,505"/>
<path stroke-width="55" d="M125,715 L300,570 M270,590 L560,610 Q610,650 550,770 L370,895 M235,800 L430,625 M215,830 L300,840 M350,860 L520,680"/>
<path stroke-width="52" d="M785,320 L1355,255"/>
<path stroke-width="62" d="M1125,125 L1120,880 Q1110,915 1060,900 L965,860"/>
<path stroke-width="48" d="M1005,320 L1015,430 M1005,320 L1235,300 L1245,420 M1015,430 L1240,415"/>
<path stroke-width="52" d="M965,530 L1345,470 M1340,465 L1320,615 M985,605 L1290,615 M935,705 L1345,615"/>
<path stroke-width="62" d="M1695,165 L1715,845"/>
<path stroke-width="52" d="M1610,250 Q1600,500 1575,700 M1590,480 L1760,430"/>
<path stroke-width="52" d="M1860,165 L1950,130 M1945,140 L1935,470 M1770,335 L2060,265 M1770,485 L2190,420 M1800,575 L2150,560"/>
<path stroke-width="62" d="M2020,430 L2010,890 Q2000,920 1960,905 L1885,860"/>
<path stroke-width="52" d="M1830,640 L1900,720"/>
</g></svg>
<div class="a hd" style="left:214px;top:180px;">储能及智能微电网系统解决方案</div>
<div class="a sub" style="left:214px;top:253px;">智慧城市和智慧能源系统解决方案供应商</div>
<div class="a" style="left:805px;top:274px;width:3620px;height:4px;background:#3a54a8;"></div>

<div class="a num" style="left:212px;top:490px;">02</div>
<div class="a ttl" style="left:386px;top:514px;">离网型微电网系统解决方案</div>
<div class="a num" style="left:2750px;top:490px;">03</div>
<div class="a ttl" style="left:2927px;top:514px;">光储充一体化解决方案</div>

<div class="a h3" style="left:381px;top:2162px;">系统组成：</div>
<div class="a p" style="left:381px;top:2240px;letter-spacing:0.16px;">　　典型的离网型微电网系统主要由柴油发电机、风力发电系统、光伏发电系统、储能系统、</div>
<div class="a p" style="left:381px;top:2300px;">微网中央控制系统及能量管理系统组成。</div>
<div class="a h3" style="left:381px;top:2435px;">系统特点：</div>
<div class="dot" style="left:413px;top:2527px;"></div>
<div class="a p" style="left:454px;top:2515px;">系统采用三层控制架构，最上层为能量管理系统，中间层为微网中央控制系统，最下层为</div>
<div class="a p" style="left:454px;top:2575px;">底层设备层；</div>
<div class="dot" style="left:413px;top:2649px;"></div>
<div class="a p" style="left:454px;top:2635px;">系统在离网模式下运行，储能系统或柴油发电机为整个微网系统提供电压和频率的支撑；</div>
<div class="dot" style="left:413px;top:2709px;"></div>
<div class="a p" style="left:454px;top:2695px;">系统可对光伏、风电及负荷进行预测，实现微电网系统的安全经济运行。</div>
<div class="a h3" style="left:381px;top:2820px;">系统功能：</div>
<div class="dot" style="left:413px;top:2905px;"></div>
<div class="a p" style="left:454px;top:2891px;">中大型海岛、边远不通电县城地区新能源发电；</div>
<div class="dot" style="left:413px;top:2966px;"></div>
<div class="a p" style="left:454px;top:2951px;">风光柴储系统独立供电，各微源接受能量管理系统调度；</div>
<div class="dot" style="left:413px;top:3027px;"></div>
<div class="a p" style="left:454px;top:3012px;">清洁能源、节能减排。</div>

<div class="a h3" style="left:2919px;top:2162px;">系统组成：</div>
<div class="a p" style="left:2919px;top:2240px;letter-spacing:-0.49px;">　　典型的光储充一体化电站由智能充电站配置光伏及储能系统，综合能源管理系统组成，</div>
<div class="a p" style="left:2919px;top:2300px;letter-spacing:-0.54px;">通过光伏发电后储存电能，光伏、储能和充电设施形成了一个智能微网系统，</div>
<div class="a h3" style="left:2919px;top:2435px;">系统特点：</div>
<div class="dot" style="left:2950px;top:2527px;"></div>
<div class="a p" style="left:2990px;top:2515px;">通过能量存储和优化配置实现本地能源生产与用能负荷基本平衡；</div>
<div class="dot" style="left:2950px;top:2588px;"></div>
<div class="a p" style="left:2990px;top:2575px;">与公共电网灵活互动且相对独立运行，可实现并网、离网两种不同运行模式；</div>
<div class="dot" style="left:2950px;top:2649px;"></div>
<div class="a p" style="left:2990px;top:2635px;">自发自用、余电存储，解决新能源并网消纳，充电站配电容量限制等问题。</div>

<div class="a" style="left:212px;top:3246px;font-size:39px;letter-spacing:0.8px;color:#8a8a8a;">www.eastups.com</div>
<div class="a" style="left:213px;top:3285px;width:325px;height:2px;background:#8a8a8a;"></div>

<div class="a pg" style="left:4653px;top:3220px;font-size:78px;font-weight:bold;color:#3453a5;transform:scaleX(0.69);transform-origin:left top;">03</div>
<div class="a pg" style="left:4765px;top:3220px;font-size:78px;font-weight:bold;color:#3453a5;transform:scaleX(0.69);transform-origin:left top;">04</div>
<div class="a glbl" style="left:1532px;top:838px;">能量管理系统</div>
<div class="a glbl" style="left:1481px;top:1124px;">中央控制系统</div>

<div class="a lbl" style="left:3970px;top:803px;">电网</div>
<div class="a lbl" style="left:2923px;top:1371px;">光伏发电系统</div>
<div class="a lbl" style="left:3355px;top:1392px;">光伏逆变器</div>
<div class="a lbl" style="left:2931px;top:1705px;">储能系统</div>
<div class="a lbl" style="left:3356px;top:1742px;">储能逆变器</div>
<div class="a lbl" style="left:4407px;top:1378px;">充电站</div>
<div class="a lbl" style="left:3937px;top:1870px;">能量管理系统</div>
<div class="a" style="left:4451px;top:261px;font-size:23px;color:#2a2a2a;letter-spacing:1.5px;">始于1989年</div>
<div class="a" style="left:4600px;top:262px;width:4px;height:21px;background:#2a2a2a;"></div>
<div class="a" style="left:4624px;top:261px;font-size:23px;color:#2a2a2a;letter-spacing:1.6px;">股票代码:300376</div>

</body></html>
